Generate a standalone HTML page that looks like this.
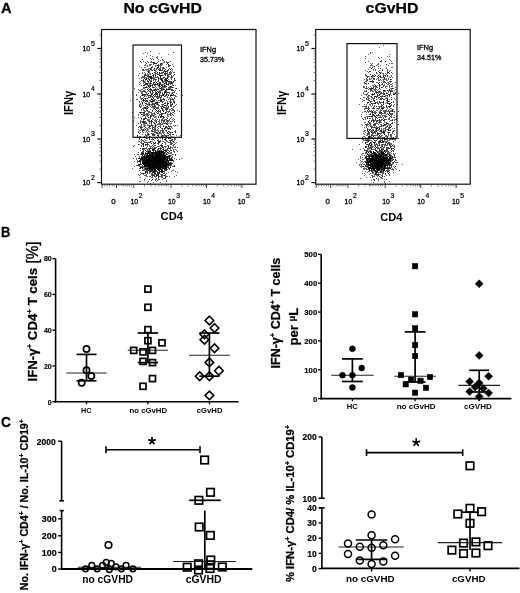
<!DOCTYPE html>
<html><head><meta charset="utf-8"><style>
html,body{margin:0;padding:0;background:#fff;}
svg{display:block;font-family:"Liberation Sans", sans-serif;will-change:transform;}
</style></head><body>
<svg width="520" height="593" viewBox="0 0 520 593">
<rect width="520" height="593" fill="#fff"/>
<text x="1.0" y="12.6" font-size="15.5" font-weight="bold" text-anchor="start" textLength="10.6" lengthAdjust="spacingAndGlyphs" fill="#000" stroke="#000" stroke-width="0.3">A</text>
<text x="1.1" y="236.6" font-size="15.5" font-weight="bold" text-anchor="start" textLength="9.4" lengthAdjust="spacingAndGlyphs" fill="#000" stroke="#000" stroke-width="0.3">B</text>
<text x="1.1" y="426.7" font-size="15.5" font-weight="bold" text-anchor="start" textLength="9.9" lengthAdjust="spacingAndGlyphs" fill="#000" stroke="#000" stroke-width="0.3">C</text>
<rect x="101.5" y="29.5" width="154.5" height="154.7" fill="none" stroke="#111" stroke-width="1.2"/>
<rect x="133.0" y="45.0" width="48.5" height="92.30000000000001" fill="none" stroke="#111" stroke-width="1.2"/>
<line x1="97.2" y1="48.5" x2="101.5" y2="48.5" stroke="#111" stroke-width="1.2"/>
<line x1="97.2" y1="94.0" x2="101.5" y2="94.0" stroke="#111" stroke-width="1.2"/>
<line x1="99.5" y1="80.5" x2="101.5" y2="80.5" stroke="#444" stroke-width="0.7"/>
<line x1="99.5" y1="72.5" x2="101.5" y2="72.5" stroke="#444" stroke-width="0.7"/>
<line x1="99.5" y1="66.9" x2="101.5" y2="66.9" stroke="#444" stroke-width="0.7"/>
<line x1="99.5" y1="62.5" x2="101.5" y2="62.5" stroke="#444" stroke-width="0.7"/>
<line x1="99.5" y1="59.0" x2="101.5" y2="59.0" stroke="#444" stroke-width="0.7"/>
<line x1="99.5" y1="56.0" x2="101.5" y2="56.0" stroke="#444" stroke-width="0.7"/>
<line x1="99.5" y1="53.4" x2="101.5" y2="53.4" stroke="#444" stroke-width="0.7"/>
<line x1="99.5" y1="51.1" x2="101.5" y2="51.1" stroke="#444" stroke-width="0.7"/>
<line x1="97.2" y1="139.0" x2="101.5" y2="139.0" stroke="#111" stroke-width="1.2"/>
<line x1="99.5" y1="125.5" x2="101.5" y2="125.5" stroke="#444" stroke-width="0.7"/>
<line x1="99.5" y1="117.5" x2="101.5" y2="117.5" stroke="#444" stroke-width="0.7"/>
<line x1="99.5" y1="111.9" x2="101.5" y2="111.9" stroke="#444" stroke-width="0.7"/>
<line x1="99.5" y1="107.5" x2="101.5" y2="107.5" stroke="#444" stroke-width="0.7"/>
<line x1="99.5" y1="104.0" x2="101.5" y2="104.0" stroke="#444" stroke-width="0.7"/>
<line x1="99.5" y1="101.0" x2="101.5" y2="101.0" stroke="#444" stroke-width="0.7"/>
<line x1="99.5" y1="98.4" x2="101.5" y2="98.4" stroke="#444" stroke-width="0.7"/>
<line x1="99.5" y1="96.1" x2="101.5" y2="96.1" stroke="#444" stroke-width="0.7"/>
<line x1="97.2" y1="182.6" x2="101.5" y2="182.6" stroke="#111" stroke-width="1.2"/>
<line x1="99.5" y1="169.1" x2="101.5" y2="169.1" stroke="#444" stroke-width="0.7"/>
<line x1="99.5" y1="161.1" x2="101.5" y2="161.1" stroke="#444" stroke-width="0.7"/>
<line x1="99.5" y1="155.5" x2="101.5" y2="155.5" stroke="#444" stroke-width="0.7"/>
<line x1="99.5" y1="151.1" x2="101.5" y2="151.1" stroke="#444" stroke-width="0.7"/>
<line x1="99.5" y1="147.6" x2="101.5" y2="147.6" stroke="#444" stroke-width="0.7"/>
<line x1="99.5" y1="144.6" x2="101.5" y2="144.6" stroke="#444" stroke-width="0.7"/>
<line x1="99.5" y1="142.0" x2="101.5" y2="142.0" stroke="#444" stroke-width="0.7"/>
<line x1="99.5" y1="139.7" x2="101.5" y2="139.7" stroke="#444" stroke-width="0.7"/>
<line x1="99.5" y1="35.0" x2="101.5" y2="35.0" stroke="#444" stroke-width="0.7"/>
<text x="82.4" y="51.15" font-size="7.8" text-anchor="start" textLength="7.8" lengthAdjust="spacingAndGlyphs" fill="#000" stroke="#000" stroke-width="0.3">10</text>
<text x="90.9" y="45.9" font-size="7.0" text-anchor="start" fill="#000" stroke="#000" stroke-width="0.2">5</text>
<text x="82.4" y="96.65" font-size="7.8" text-anchor="start" textLength="7.8" lengthAdjust="spacingAndGlyphs" fill="#000" stroke="#000" stroke-width="0.3">10</text>
<text x="90.9" y="91.4" font-size="7.0" text-anchor="start" fill="#000" stroke="#000" stroke-width="0.2">4</text>
<text x="82.4" y="141.65" font-size="7.8" text-anchor="start" textLength="7.8" lengthAdjust="spacingAndGlyphs" fill="#000" stroke="#000" stroke-width="0.3">10</text>
<text x="90.9" y="136.4" font-size="7.0" text-anchor="start" fill="#000" stroke="#000" stroke-width="0.2">3</text>
<text x="82.4" y="185.25" font-size="7.8" text-anchor="start" textLength="7.8" lengthAdjust="spacingAndGlyphs" fill="#000" stroke="#000" stroke-width="0.3">10</text>
<text x="90.9" y="180.0" font-size="7.0" text-anchor="start" fill="#000" stroke="#000" stroke-width="0.2">2</text>
<line x1="102.0" y1="184.2" x2="102.0" y2="188.0" stroke="#333" stroke-width="0.9"/>
<line x1="116.5" y1="184.2" x2="116.5" y2="188.0" stroke="#333" stroke-width="0.9"/>
<line x1="133.7" y1="184.2" x2="133.7" y2="188.0" stroke="#333" stroke-width="0.9"/>
<line x1="104.3" y1="184.2" x2="104.3" y2="186.39999999999998" stroke="#444" stroke-width="0.7"/>
<line x1="107.3" y1="184.2" x2="107.3" y2="186.39999999999998" stroke="#444" stroke-width="0.7"/>
<line x1="109.6" y1="184.2" x2="109.6" y2="186.39999999999998" stroke="#444" stroke-width="0.7"/>
<line x1="112.3" y1="184.2" x2="112.3" y2="186.39999999999998" stroke="#444" stroke-width="0.7"/>
<line x1="114.2" y1="184.2" x2="114.2" y2="186.39999999999998" stroke="#444" stroke-width="0.7"/>
<line x1="118.8" y1="184.2" x2="118.8" y2="186.39999999999998" stroke="#444" stroke-width="0.7"/>
<line x1="121.9" y1="184.2" x2="121.9" y2="186.39999999999998" stroke="#444" stroke-width="0.7"/>
<line x1="123.8" y1="184.2" x2="123.8" y2="186.39999999999998" stroke="#444" stroke-width="0.7"/>
<line x1="125.8" y1="184.2" x2="125.8" y2="186.39999999999998" stroke="#444" stroke-width="0.7"/>
<line x1="127.7" y1="184.2" x2="127.7" y2="186.39999999999998" stroke="#444" stroke-width="0.7"/>
<line x1="129.6" y1="184.2" x2="129.6" y2="186.39999999999998" stroke="#444" stroke-width="0.7"/>
<line x1="131.5" y1="184.2" x2="131.5" y2="186.39999999999998" stroke="#444" stroke-width="0.7"/>
<line x1="144.5" y1="184.2" x2="144.5" y2="186.39999999999998" stroke="#444" stroke-width="0.7"/>
<line x1="150.9" y1="184.2" x2="150.9" y2="186.39999999999998" stroke="#444" stroke-width="0.7"/>
<line x1="155.4" y1="184.2" x2="155.4" y2="186.39999999999998" stroke="#444" stroke-width="0.7"/>
<line x1="158.9" y1="184.2" x2="158.9" y2="186.39999999999998" stroke="#444" stroke-width="0.7"/>
<line x1="161.7" y1="184.2" x2="161.7" y2="186.39999999999998" stroke="#444" stroke-width="0.7"/>
<line x1="164.1" y1="184.2" x2="164.1" y2="186.39999999999998" stroke="#444" stroke-width="0.7"/>
<line x1="166.2" y1="184.2" x2="166.2" y2="186.39999999999998" stroke="#444" stroke-width="0.7"/>
<line x1="168.1" y1="184.2" x2="168.1" y2="186.39999999999998" stroke="#444" stroke-width="0.7"/>
<line x1="181.8" y1="184.2" x2="181.8" y2="186.39999999999998" stroke="#444" stroke-width="0.7"/>
<line x1="188.2" y1="184.2" x2="188.2" y2="186.39999999999998" stroke="#444" stroke-width="0.7"/>
<line x1="192.7" y1="184.2" x2="192.7" y2="186.39999999999998" stroke="#444" stroke-width="0.7"/>
<line x1="196.2" y1="184.2" x2="196.2" y2="186.39999999999998" stroke="#444" stroke-width="0.7"/>
<line x1="199.0" y1="184.2" x2="199.0" y2="186.39999999999998" stroke="#444" stroke-width="0.7"/>
<line x1="201.4" y1="184.2" x2="201.4" y2="186.39999999999998" stroke="#444" stroke-width="0.7"/>
<line x1="203.5" y1="184.2" x2="203.5" y2="186.39999999999998" stroke="#444" stroke-width="0.7"/>
<line x1="205.4" y1="184.2" x2="205.4" y2="186.39999999999998" stroke="#444" stroke-width="0.7"/>
<line x1="217.3" y1="184.2" x2="217.3" y2="186.39999999999998" stroke="#444" stroke-width="0.7"/>
<line x1="223.7" y1="184.2" x2="223.7" y2="186.39999999999998" stroke="#444" stroke-width="0.7"/>
<line x1="228.2" y1="184.2" x2="228.2" y2="186.39999999999998" stroke="#444" stroke-width="0.7"/>
<line x1="231.7" y1="184.2" x2="231.7" y2="186.39999999999998" stroke="#444" stroke-width="0.7"/>
<line x1="234.5" y1="184.2" x2="234.5" y2="186.39999999999998" stroke="#444" stroke-width="0.7"/>
<line x1="236.9" y1="184.2" x2="236.9" y2="186.39999999999998" stroke="#444" stroke-width="0.7"/>
<line x1="239.0" y1="184.2" x2="239.0" y2="186.39999999999998" stroke="#444" stroke-width="0.7"/>
<line x1="240.9" y1="184.2" x2="240.9" y2="186.39999999999998" stroke="#444" stroke-width="0.7"/>
<line x1="171.0" y1="184.2" x2="171.0" y2="188.0" stroke="#333" stroke-width="0.9"/>
<line x1="206.5" y1="184.2" x2="206.5" y2="188.0" stroke="#333" stroke-width="0.9"/>
<line x1="242.0" y1="184.2" x2="242.0" y2="188.0" stroke="#333" stroke-width="0.9"/>
<text x="111.2" y="203.5" font-size="7.8" text-anchor="start" fill="#000" stroke="#000" stroke-width="0.3">0</text>
<text x="130.4" y="203.5" font-size="7.8" text-anchor="start" textLength="7.6" lengthAdjust="spacingAndGlyphs" fill="#000" stroke="#000" stroke-width="0.3">10</text>
<text x="138.70000000000002" y="197.9" font-size="6.8" text-anchor="start" fill="#000" stroke="#000" stroke-width="0.2">2</text>
<text x="168.0" y="203.5" font-size="7.8" text-anchor="start" textLength="7.6" lengthAdjust="spacingAndGlyphs" fill="#000" stroke="#000" stroke-width="0.3">10</text>
<text x="176.3" y="197.9" font-size="6.8" text-anchor="start" fill="#000" stroke="#000" stroke-width="0.2">3</text>
<text x="203.0" y="203.5" font-size="7.8" text-anchor="start" textLength="7.6" lengthAdjust="spacingAndGlyphs" fill="#000" stroke="#000" stroke-width="0.3">10</text>
<text x="211.3" y="197.9" font-size="6.8" text-anchor="start" fill="#000" stroke="#000" stroke-width="0.2">4</text>
<text x="237.8" y="203.5" font-size="7.8" text-anchor="start" textLength="7.6" lengthAdjust="spacingAndGlyphs" fill="#000" stroke="#000" stroke-width="0.3">10</text>
<text x="246.10000000000002" y="197.9" font-size="6.8" text-anchor="start" fill="#000" stroke="#000" stroke-width="0.2">5</text>
<text x="160.6" y="220.0" font-size="10.8" font-weight="bold" text-anchor="start" textLength="22.3" lengthAdjust="spacingAndGlyphs" fill="#000" >CD4</text>
<text transform="translate(72.6,115.0) rotate(-90)" font-size="12.2" font-weight="bold" textLength="24.2" lengthAdjust="spacingAndGlyphs">IFNγ</text>
<text x="123.4" y="12.8" font-size="14.8" font-weight="bold" text-anchor="start" textLength="78.5" lengthAdjust="spacingAndGlyphs" fill="#000" stroke="#000" stroke-width="0.25">No cGvHD</text>
<text x="200.0" y="51.9" font-size="7.4" text-anchor="start" fill="#000" stroke="#000" stroke-width="0.3">IFNg</text>
<text x="200.0" y="61.5" font-size="7.4" text-anchor="start" textLength="24.3" lengthAdjust="spacingAndGlyphs" fill="#000" stroke="#000" stroke-width="0.3">35.73%</text>
<rect x="315.7" y="29.5" width="154.5" height="154.7" fill="none" stroke="#111" stroke-width="1.2"/>
<rect x="347.0" y="43.6" width="50.0" height="94.80000000000001" fill="none" stroke="#111" stroke-width="1.2"/>
<line x1="311.4" y1="48.5" x2="315.7" y2="48.5" stroke="#111" stroke-width="1.2"/>
<line x1="311.4" y1="94.0" x2="315.7" y2="94.0" stroke="#111" stroke-width="1.2"/>
<line x1="313.7" y1="80.5" x2="315.7" y2="80.5" stroke="#444" stroke-width="0.7"/>
<line x1="313.7" y1="72.5" x2="315.7" y2="72.5" stroke="#444" stroke-width="0.7"/>
<line x1="313.7" y1="66.9" x2="315.7" y2="66.9" stroke="#444" stroke-width="0.7"/>
<line x1="313.7" y1="62.5" x2="315.7" y2="62.5" stroke="#444" stroke-width="0.7"/>
<line x1="313.7" y1="59.0" x2="315.7" y2="59.0" stroke="#444" stroke-width="0.7"/>
<line x1="313.7" y1="56.0" x2="315.7" y2="56.0" stroke="#444" stroke-width="0.7"/>
<line x1="313.7" y1="53.4" x2="315.7" y2="53.4" stroke="#444" stroke-width="0.7"/>
<line x1="313.7" y1="51.1" x2="315.7" y2="51.1" stroke="#444" stroke-width="0.7"/>
<line x1="311.4" y1="139.0" x2="315.7" y2="139.0" stroke="#111" stroke-width="1.2"/>
<line x1="313.7" y1="125.5" x2="315.7" y2="125.5" stroke="#444" stroke-width="0.7"/>
<line x1="313.7" y1="117.5" x2="315.7" y2="117.5" stroke="#444" stroke-width="0.7"/>
<line x1="313.7" y1="111.9" x2="315.7" y2="111.9" stroke="#444" stroke-width="0.7"/>
<line x1="313.7" y1="107.5" x2="315.7" y2="107.5" stroke="#444" stroke-width="0.7"/>
<line x1="313.7" y1="104.0" x2="315.7" y2="104.0" stroke="#444" stroke-width="0.7"/>
<line x1="313.7" y1="101.0" x2="315.7" y2="101.0" stroke="#444" stroke-width="0.7"/>
<line x1="313.7" y1="98.4" x2="315.7" y2="98.4" stroke="#444" stroke-width="0.7"/>
<line x1="313.7" y1="96.1" x2="315.7" y2="96.1" stroke="#444" stroke-width="0.7"/>
<line x1="311.4" y1="182.6" x2="315.7" y2="182.6" stroke="#111" stroke-width="1.2"/>
<line x1="313.7" y1="169.1" x2="315.7" y2="169.1" stroke="#444" stroke-width="0.7"/>
<line x1="313.7" y1="161.1" x2="315.7" y2="161.1" stroke="#444" stroke-width="0.7"/>
<line x1="313.7" y1="155.5" x2="315.7" y2="155.5" stroke="#444" stroke-width="0.7"/>
<line x1="313.7" y1="151.1" x2="315.7" y2="151.1" stroke="#444" stroke-width="0.7"/>
<line x1="313.7" y1="147.6" x2="315.7" y2="147.6" stroke="#444" stroke-width="0.7"/>
<line x1="313.7" y1="144.6" x2="315.7" y2="144.6" stroke="#444" stroke-width="0.7"/>
<line x1="313.7" y1="142.0" x2="315.7" y2="142.0" stroke="#444" stroke-width="0.7"/>
<line x1="313.7" y1="139.7" x2="315.7" y2="139.7" stroke="#444" stroke-width="0.7"/>
<line x1="313.7" y1="35.0" x2="315.7" y2="35.0" stroke="#444" stroke-width="0.7"/>
<text x="296.59999999999997" y="51.15" font-size="7.8" text-anchor="start" textLength="7.8" lengthAdjust="spacingAndGlyphs" fill="#000" stroke="#000" stroke-width="0.3">10</text>
<text x="305.09999999999997" y="45.9" font-size="7.0" text-anchor="start" fill="#000" stroke="#000" stroke-width="0.2">5</text>
<text x="296.59999999999997" y="96.65" font-size="7.8" text-anchor="start" textLength="7.8" lengthAdjust="spacingAndGlyphs" fill="#000" stroke="#000" stroke-width="0.3">10</text>
<text x="305.09999999999997" y="91.4" font-size="7.0" text-anchor="start" fill="#000" stroke="#000" stroke-width="0.2">4</text>
<text x="296.59999999999997" y="141.65" font-size="7.8" text-anchor="start" textLength="7.8" lengthAdjust="spacingAndGlyphs" fill="#000" stroke="#000" stroke-width="0.3">10</text>
<text x="305.09999999999997" y="136.4" font-size="7.0" text-anchor="start" fill="#000" stroke="#000" stroke-width="0.2">3</text>
<text x="296.59999999999997" y="185.25" font-size="7.8" text-anchor="start" textLength="7.8" lengthAdjust="spacingAndGlyphs" fill="#000" stroke="#000" stroke-width="0.3">10</text>
<text x="305.09999999999997" y="180.0" font-size="7.0" text-anchor="start" fill="#000" stroke="#000" stroke-width="0.2">2</text>
<line x1="316.2" y1="184.2" x2="316.2" y2="188.0" stroke="#333" stroke-width="0.9"/>
<line x1="330.7" y1="184.2" x2="330.7" y2="188.0" stroke="#333" stroke-width="0.9"/>
<line x1="347.9" y1="184.2" x2="347.9" y2="188.0" stroke="#333" stroke-width="0.9"/>
<line x1="318.5" y1="184.2" x2="318.5" y2="186.39999999999998" stroke="#444" stroke-width="0.7"/>
<line x1="321.5" y1="184.2" x2="321.5" y2="186.39999999999998" stroke="#444" stroke-width="0.7"/>
<line x1="323.8" y1="184.2" x2="323.8" y2="186.39999999999998" stroke="#444" stroke-width="0.7"/>
<line x1="326.5" y1="184.2" x2="326.5" y2="186.39999999999998" stroke="#444" stroke-width="0.7"/>
<line x1="328.4" y1="184.2" x2="328.4" y2="186.39999999999998" stroke="#444" stroke-width="0.7"/>
<line x1="333.0" y1="184.2" x2="333.0" y2="186.39999999999998" stroke="#444" stroke-width="0.7"/>
<line x1="336.09999999999997" y1="184.2" x2="336.09999999999997" y2="186.39999999999998" stroke="#444" stroke-width="0.7"/>
<line x1="338.0" y1="184.2" x2="338.0" y2="186.39999999999998" stroke="#444" stroke-width="0.7"/>
<line x1="340.0" y1="184.2" x2="340.0" y2="186.39999999999998" stroke="#444" stroke-width="0.7"/>
<line x1="341.9" y1="184.2" x2="341.9" y2="186.39999999999998" stroke="#444" stroke-width="0.7"/>
<line x1="343.8" y1="184.2" x2="343.8" y2="186.39999999999998" stroke="#444" stroke-width="0.7"/>
<line x1="345.7" y1="184.2" x2="345.7" y2="186.39999999999998" stroke="#444" stroke-width="0.7"/>
<line x1="358.7" y1="184.2" x2="358.7" y2="186.39999999999998" stroke="#444" stroke-width="0.7"/>
<line x1="365.1" y1="184.2" x2="365.1" y2="186.39999999999998" stroke="#444" stroke-width="0.7"/>
<line x1="369.6" y1="184.2" x2="369.6" y2="186.39999999999998" stroke="#444" stroke-width="0.7"/>
<line x1="373.1" y1="184.2" x2="373.1" y2="186.39999999999998" stroke="#444" stroke-width="0.7"/>
<line x1="375.9" y1="184.2" x2="375.9" y2="186.39999999999998" stroke="#444" stroke-width="0.7"/>
<line x1="378.3" y1="184.2" x2="378.3" y2="186.39999999999998" stroke="#444" stroke-width="0.7"/>
<line x1="380.4" y1="184.2" x2="380.4" y2="186.39999999999998" stroke="#444" stroke-width="0.7"/>
<line x1="382.3" y1="184.2" x2="382.3" y2="186.39999999999998" stroke="#444" stroke-width="0.7"/>
<line x1="396.0" y1="184.2" x2="396.0" y2="186.39999999999998" stroke="#444" stroke-width="0.7"/>
<line x1="402.4" y1="184.2" x2="402.4" y2="186.39999999999998" stroke="#444" stroke-width="0.7"/>
<line x1="406.9" y1="184.2" x2="406.9" y2="186.39999999999998" stroke="#444" stroke-width="0.7"/>
<line x1="410.4" y1="184.2" x2="410.4" y2="186.39999999999998" stroke="#444" stroke-width="0.7"/>
<line x1="413.2" y1="184.2" x2="413.2" y2="186.39999999999998" stroke="#444" stroke-width="0.7"/>
<line x1="415.6" y1="184.2" x2="415.6" y2="186.39999999999998" stroke="#444" stroke-width="0.7"/>
<line x1="417.7" y1="184.2" x2="417.7" y2="186.39999999999998" stroke="#444" stroke-width="0.7"/>
<line x1="419.6" y1="184.2" x2="419.6" y2="186.39999999999998" stroke="#444" stroke-width="0.7"/>
<line x1="431.5" y1="184.2" x2="431.5" y2="186.39999999999998" stroke="#444" stroke-width="0.7"/>
<line x1="437.9" y1="184.2" x2="437.9" y2="186.39999999999998" stroke="#444" stroke-width="0.7"/>
<line x1="442.4" y1="184.2" x2="442.4" y2="186.39999999999998" stroke="#444" stroke-width="0.7"/>
<line x1="445.9" y1="184.2" x2="445.9" y2="186.39999999999998" stroke="#444" stroke-width="0.7"/>
<line x1="448.7" y1="184.2" x2="448.7" y2="186.39999999999998" stroke="#444" stroke-width="0.7"/>
<line x1="451.1" y1="184.2" x2="451.1" y2="186.39999999999998" stroke="#444" stroke-width="0.7"/>
<line x1="453.2" y1="184.2" x2="453.2" y2="186.39999999999998" stroke="#444" stroke-width="0.7"/>
<line x1="455.1" y1="184.2" x2="455.1" y2="186.39999999999998" stroke="#444" stroke-width="0.7"/>
<line x1="385.2" y1="184.2" x2="385.2" y2="188.0" stroke="#333" stroke-width="0.9"/>
<line x1="420.7" y1="184.2" x2="420.7" y2="188.0" stroke="#333" stroke-width="0.9"/>
<line x1="456.2" y1="184.2" x2="456.2" y2="188.0" stroke="#333" stroke-width="0.9"/>
<text x="325.4" y="203.5" font-size="7.8" text-anchor="start" fill="#000" stroke="#000" stroke-width="0.3">0</text>
<text x="344.59999999999997" y="203.5" font-size="7.8" text-anchor="start" textLength="7.6" lengthAdjust="spacingAndGlyphs" fill="#000" stroke="#000" stroke-width="0.3">10</text>
<text x="352.9" y="197.9" font-size="6.8" text-anchor="start" fill="#000" stroke="#000" stroke-width="0.2">2</text>
<text x="382.2" y="203.5" font-size="7.8" text-anchor="start" textLength="7.6" lengthAdjust="spacingAndGlyphs" fill="#000" stroke="#000" stroke-width="0.3">10</text>
<text x="390.5" y="197.9" font-size="6.8" text-anchor="start" fill="#000" stroke="#000" stroke-width="0.2">3</text>
<text x="417.2" y="203.5" font-size="7.8" text-anchor="start" textLength="7.6" lengthAdjust="spacingAndGlyphs" fill="#000" stroke="#000" stroke-width="0.3">10</text>
<text x="425.5" y="197.9" font-size="6.8" text-anchor="start" fill="#000" stroke="#000" stroke-width="0.2">4</text>
<text x="452.0" y="203.5" font-size="7.8" text-anchor="start" textLength="7.6" lengthAdjust="spacingAndGlyphs" fill="#000" stroke="#000" stroke-width="0.3">10</text>
<text x="460.3" y="197.9" font-size="6.8" text-anchor="start" fill="#000" stroke="#000" stroke-width="0.2">5</text>
<text x="380.2" y="221.1" font-size="10.8" font-weight="bold" text-anchor="start" textLength="22.3" lengthAdjust="spacingAndGlyphs" fill="#000" >CD4</text>
<text transform="translate(285.8,115.0) rotate(-90)" font-size="12.2" font-weight="bold" textLength="24.2" lengthAdjust="spacingAndGlyphs">IFNγ</text>
<text x="365.6" y="12.8" font-size="14.8" font-weight="bold" text-anchor="start" textLength="52.9" lengthAdjust="spacingAndGlyphs" fill="#000" stroke="#000" stroke-width="0.25">cGvHD</text>
<text x="417.0" y="50.2" font-size="7.4" text-anchor="start" fill="#000" stroke="#000" stroke-width="0.3">IFNg</text>
<text x="417.0" y="59.6" font-size="7.4" text-anchor="start" textLength="24.3" lengthAdjust="spacingAndGlyphs" fill="#000" stroke="#000" stroke-width="0.3">34.51%</text>
<defs><filter id="bl" x="-5%" y="-5%" width="110%" height="110%"><feGaussianBlur stdDeviation="0.5"/></filter></defs>
<g filter="url(#bl)"><path d="M150 51h1v1h-1zM145 52h1v1h-1zM173 52h1v1h-1zM143 53h1v1h-1zM147 53h1v1h-1zM159 53h1v1h-1zM168 54h1v1h-1zM150 55h1v1h-1zM146 56h1v1h-1zM152 56h1v1h-1zM157 56h1v1h-1zM156 57h2v1h-2zM161 57h1v1h-1zM150 58h1v1h-1zM152 58h1v1h-1zM157 58h1v1h-1zM142 59h1v1h-1zM151 59h1v1h-1zM153 59h1v1h-1zM158 59h1v1h-1zM162 59h1v1h-1zM160 60h1v1h-1zM162 60h2v1h-2zM143 61h1v1h-1zM147 61h1v1h-1zM151 61h1v1h-1zM158 61h1v1h-1zM164 61h1v1h-1zM166 61h1v1h-1zM170 61h1v1h-1zM141 62h1v1h-1zM145 62h1v1h-1zM148 62h1v1h-1zM150 62h3v1h-3zM154 62h1v1h-1zM157 62h1v1h-1zM163 62h2v1h-2zM166 62h2v1h-2zM146 63h1v1h-1zM153 63h1v1h-1zM160 63h1v1h-1zM162 63h1v1h-1zM145 64h1v1h-1zM149 64h3v1h-3zM153 64h1v1h-1zM158 64h1v1h-1zM161 64h2v1h-2zM166 64h1v1h-1zM172 64h1v1h-1zM144 65h2v1h-2zM147 65h1v1h-1zM149 65h2v1h-2zM155 65h2v1h-2zM158 65h4v1h-4zM168 65h1v1h-1zM170 65h1v1h-1zM139 66h1v1h-1zM152 66h1v1h-1zM155 66h1v1h-1zM160 66h1v1h-1zM169 66h1v1h-1zM173 66h1v1h-1zM141 67h1v1h-1zM144 67h2v1h-2zM152 67h1v1h-1zM160 67h1v1h-1zM162 67h2v1h-2zM166 67h1v1h-1zM148 68h4v1h-4zM156 68h2v1h-2zM159 68h2v1h-2zM162 68h1v1h-1zM164 68h1v1h-1zM169 68h1v1h-1zM171 68h1v1h-1zM142 69h1v1h-1zM145 69h4v1h-4zM151 69h1v1h-1zM153 69h2v1h-2zM158 69h2v1h-2zM162 69h1v1h-1zM165 69h1v1h-1zM168 69h1v1h-1zM142 70h3v1h-3zM146 70h1v1h-1zM148 70h2v1h-2zM151 70h1v1h-1zM155 70h1v1h-1zM161 70h1v1h-1zM168 70h1v1h-1zM171 70h1v1h-1zM147 71h1v1h-1zM149 71h1v1h-1zM155 71h2v1h-2zM163 71h2v1h-2zM167 71h1v1h-1zM170 71h1v1h-1zM172 71h1v1h-1zM142 72h1v1h-1zM144 72h1v1h-1zM149 72h1v1h-1zM155 72h1v1h-1zM161 72h2v1h-2zM165 72h1v1h-1zM167 72h1v1h-1zM170 72h2v1h-2zM173 72h2v1h-2zM139 73h1v1h-1zM142 73h1v1h-1zM145 73h1v1h-1zM147 73h1v1h-1zM149 73h2v1h-2zM156 73h2v1h-2zM160 73h1v1h-1zM162 73h1v1h-1zM167 73h1v1h-1zM169 73h3v1h-3zM144 74h1v1h-1zM147 74h2v1h-2zM153 74h3v1h-3zM158 74h2v1h-2zM164 74h1v1h-1zM167 74h4v1h-4zM138 75h1v1h-1zM144 75h1v1h-1zM146 75h3v1h-3zM152 75h1v1h-1zM163 75h1v1h-1zM165 75h1v1h-1zM168 75h1v1h-1zM171 75h1v1h-1zM142 76h2v1h-2zM148 76h1v1h-1zM155 76h1v1h-1zM157 76h1v1h-1zM167 76h3v1h-3zM172 76h1v1h-1zM141 77h6v1h-6zM148 77h1v1h-1zM152 77h6v1h-6zM168 77h1v1h-1zM170 77h3v1h-3zM139 78h1v1h-1zM141 78h1v1h-1zM147 78h2v1h-2zM152 78h3v1h-3zM159 78h2v1h-2zM162 78h2v1h-2zM171 78h1v1h-1zM143 79h1v1h-1zM148 79h1v1h-1zM151 79h1v1h-1zM153 79h2v1h-2zM156 79h1v1h-1zM162 79h1v1h-1zM164 79h1v1h-1zM168 79h1v1h-1zM171 79h1v1h-1zM174 79h1v1h-1zM141 80h2v1h-2zM145 80h1v1h-1zM147 80h1v1h-1zM149 80h3v1h-3zM153 80h1v1h-1zM155 80h1v1h-1zM164 80h1v1h-1zM175 80h1v1h-1zM140 81h1v1h-1zM150 81h1v1h-1zM155 81h1v1h-1zM157 81h2v1h-2zM163 81h5v1h-5zM170 81h1v1h-1zM139 82h1v1h-1zM143 82h3v1h-3zM148 82h1v1h-1zM162 82h1v1h-1zM165 82h1v1h-1zM168 82h3v1h-3zM172 82h2v1h-2zM140 83h1v1h-1zM143 83h1v1h-1zM148 83h2v1h-2zM151 83h1v1h-1zM155 83h1v1h-1zM158 83h2v1h-2zM165 83h1v1h-1zM168 83h2v1h-2zM172 83h1v1h-1zM139 84h1v1h-1zM144 84h1v1h-1zM147 84h1v1h-1zM149 84h2v1h-2zM152 84h2v1h-2zM158 84h1v1h-1zM160 84h5v1h-5zM170 84h1v1h-1zM172 84h1v1h-1zM147 85h1v1h-1zM149 85h1v1h-1zM151 85h1v1h-1zM154 85h2v1h-2zM165 85h1v1h-1zM168 85h1v1h-1zM172 85h1v1h-1zM175 85h1v1h-1zM146 86h1v1h-1zM149 86h1v1h-1zM152 86h1v1h-1zM155 86h1v1h-1zM158 86h1v1h-1zM160 86h1v1h-1zM163 86h1v1h-1zM165 86h1v1h-1zM169 86h1v1h-1zM143 87h2v1h-2zM147 87h1v1h-1zM152 87h1v1h-1zM154 87h1v1h-1zM156 87h1v1h-1zM159 87h1v1h-1zM162 87h4v1h-4zM168 87h1v1h-1zM170 87h2v1h-2zM173 87h1v1h-1zM134 88h1v1h-1zM143 88h2v1h-2zM148 88h1v1h-1zM150 88h1v1h-1zM155 88h1v1h-1zM157 88h1v1h-1zM159 88h1v1h-1zM162 88h2v1h-2zM166 88h1v1h-1zM168 88h3v1h-3zM175 88h1v1h-1zM138 89h1v1h-1zM141 89h2v1h-2zM145 89h1v1h-1zM153 89h2v1h-2zM156 89h2v1h-2zM161 89h2v1h-2zM170 89h1v1h-1zM172 89h1v1h-1zM139 90h2v1h-2zM143 90h2v1h-2zM150 90h4v1h-4zM155 90h2v1h-2zM159 90h2v1h-2zM162 90h1v1h-1zM166 90h1v1h-1zM171 90h2v1h-2zM175 90h1v1h-1zM179 90h1v1h-1zM140 91h4v1h-4zM145 91h1v1h-1zM147 91h1v1h-1zM149 91h1v1h-1zM155 91h1v1h-1zM158 91h3v1h-3zM164 91h1v1h-1zM166 91h1v1h-1zM174 91h1v1h-1zM138 92h1v1h-1zM141 92h2v1h-2zM145 92h2v1h-2zM152 92h2v1h-2zM155 92h1v1h-1zM159 92h1v1h-1zM162 92h1v1h-1zM166 92h1v1h-1zM169 92h1v1h-1zM172 92h3v1h-3zM141 93h2v1h-2zM146 93h1v1h-1zM150 93h2v1h-2zM156 93h1v1h-1zM159 93h2v1h-2zM166 93h1v1h-1zM169 93h1v1h-1zM171 93h1v1h-1zM176 93h1v1h-1zM136 94h1v1h-1zM145 94h2v1h-2zM152 94h1v1h-1zM155 94h1v1h-1zM162 94h1v1h-1zM164 94h1v1h-1zM167 94h2v1h-2zM170 94h2v1h-2zM136 95h1v1h-1zM141 95h1v1h-1zM143 95h3v1h-3zM147 95h2v1h-2zM151 95h1v1h-1zM155 95h1v1h-1zM157 95h1v1h-1zM160 95h2v1h-2zM165 95h1v1h-1zM173 95h3v1h-3zM182 95h1v1h-1zM140 96h1v1h-1zM146 96h1v1h-1zM148 96h1v1h-1zM151 96h1v1h-1zM155 96h2v1h-2zM158 96h1v1h-1zM165 96h1v1h-1zM167 96h1v1h-1zM170 96h1v1h-1zM175 96h2v1h-2zM140 97h1v1h-1zM143 97h1v1h-1zM149 97h2v1h-2zM152 97h2v1h-2zM156 97h4v1h-4zM161 97h1v1h-1zM169 97h1v1h-1zM171 97h1v1h-1zM174 97h1v1h-1zM140 98h2v1h-2zM144 98h1v1h-1zM146 98h1v1h-1zM151 98h1v1h-1zM158 98h1v1h-1zM160 98h1v1h-1zM169 98h2v1h-2zM172 98h1v1h-1zM136 99h2v1h-2zM141 99h1v1h-1zM145 99h1v1h-1zM154 99h2v1h-2zM161 99h2v1h-2zM168 99h1v1h-1zM171 99h1v1h-1zM130 100h1v1h-1zM142 100h1v1h-1zM144 100h2v1h-2zM147 100h1v1h-1zM149 100h2v1h-2zM156 100h1v1h-1zM158 100h2v1h-2zM164 100h1v1h-1zM166 100h1v1h-1zM170 100h1v1h-1zM173 100h1v1h-1zM139 101h1v1h-1zM141 101h1v1h-1zM143 101h1v1h-1zM146 101h1v1h-1zM153 101h2v1h-2zM157 101h1v1h-1zM160 101h1v1h-1zM162 101h2v1h-2zM167 101h1v1h-1zM169 101h3v1h-3zM173 101h1v1h-1zM139 102h1v1h-1zM144 102h1v1h-1zM148 102h2v1h-2zM151 102h2v1h-2zM158 102h2v1h-2zM165 102h1v1h-1zM167 102h1v1h-1zM171 102h1v1h-1zM173 102h1v1h-1zM140 103h1v1h-1zM148 103h2v1h-2zM152 103h1v1h-1zM154 103h1v1h-1zM165 103h1v1h-1zM170 103h1v1h-1zM172 103h1v1h-1zM174 103h1v1h-1zM139 104h2v1h-2zM142 104h1v1h-1zM146 104h1v1h-1zM148 104h1v1h-1zM150 104h2v1h-2zM153 104h1v1h-1zM156 104h1v1h-1zM158 104h1v1h-1zM161 104h2v1h-2zM170 104h1v1h-1zM176 104h1v1h-1zM141 105h1v1h-1zM143 105h1v1h-1zM148 105h1v1h-1zM151 105h2v1h-2zM154 105h2v1h-2zM158 105h1v1h-1zM162 105h1v1h-1zM166 105h2v1h-2zM171 105h1v1h-1zM175 105h1v1h-1zM139 106h3v1h-3zM146 106h1v1h-1zM150 106h1v1h-1zM152 106h1v1h-1zM155 106h1v1h-1zM158 106h1v1h-1zM160 106h2v1h-2zM163 106h1v1h-1zM166 106h1v1h-1zM170 106h2v1h-2zM173 106h2v1h-2zM140 107h1v1h-1zM143 107h1v1h-1zM146 107h3v1h-3zM151 107h8v1h-8zM161 107h1v1h-1zM165 107h4v1h-4zM173 107h1v1h-1zM142 108h3v1h-3zM146 108h1v1h-1zM153 108h1v1h-1zM156 108h1v1h-1zM158 108h1v1h-1zM165 108h1v1h-1zM167 108h2v1h-2zM171 108h2v1h-2zM141 109h1v1h-1zM143 109h1v1h-1zM146 109h1v1h-1zM150 109h1v1h-1zM153 109h1v1h-1zM159 109h1v1h-1zM162 109h2v1h-2zM165 109h1v1h-1zM169 109h2v1h-2zM172 109h2v1h-2zM141 110h1v1h-1zM143 110h2v1h-2zM147 110h1v1h-1zM163 110h1v1h-1zM166 110h1v1h-1zM169 110h1v1h-1zM171 110h4v1h-4zM177 110h1v1h-1zM144 111h2v1h-2zM147 111h3v1h-3zM152 111h1v1h-1zM155 111h1v1h-1zM158 111h3v1h-3zM166 111h3v1h-3zM179 111h1v1h-1zM132 112h1v1h-1zM139 112h1v1h-1zM142 112h1v1h-1zM148 112h4v1h-4zM154 112h1v1h-1zM156 112h1v1h-1zM158 112h1v1h-1zM166 112h1v1h-1zM168 112h1v1h-1zM170 112h1v1h-1zM172 112h2v1h-2zM140 113h1v1h-1zM143 113h2v1h-2zM146 113h3v1h-3zM151 113h3v1h-3zM158 113h1v1h-1zM163 113h3v1h-3zM167 113h1v1h-1zM171 113h1v1h-1zM174 113h1v1h-1zM138 114h1v1h-1zM142 114h5v1h-5zM149 114h1v1h-1zM151 114h2v1h-2zM154 114h2v1h-2zM159 114h1v1h-1zM161 114h2v1h-2zM167 114h4v1h-4zM138 115h1v1h-1zM146 115h2v1h-2zM151 115h2v1h-2zM154 115h1v1h-1zM159 115h1v1h-1zM167 115h1v1h-1zM170 115h2v1h-2zM173 115h1v1h-1zM142 116h1v1h-1zM145 116h1v1h-1zM147 116h1v1h-1zM151 116h1v1h-1zM153 116h1v1h-1zM155 116h2v1h-2zM158 116h1v1h-1zM163 116h1v1h-1zM167 116h2v1h-2zM134 117h1v1h-1zM138 117h1v1h-1zM140 117h1v1h-1zM145 117h1v1h-1zM149 117h2v1h-2zM154 117h2v1h-2zM161 117h1v1h-1zM164 117h1v1h-1zM166 117h1v1h-1zM171 117h1v1h-1zM143 118h2v1h-2zM150 118h1v1h-1zM152 118h1v1h-1zM156 118h1v1h-1zM162 118h2v1h-2zM170 118h1v1h-1zM173 118h1v1h-1zM141 119h1v1h-1zM147 119h3v1h-3zM152 119h2v1h-2zM155 119h1v1h-1zM157 119h1v1h-1zM159 119h1v1h-1zM161 119h2v1h-2zM164 119h3v1h-3zM169 119h1v1h-1zM172 119h1v1h-1zM174 119h1v1h-1zM133 120h1v1h-1zM140 120h1v1h-1zM143 120h1v1h-1zM147 120h3v1h-3zM154 120h3v1h-3zM159 120h1v1h-1zM162 120h2v1h-2zM166 120h1v1h-1zM168 120h2v1h-2zM173 120h1v1h-1zM140 121h3v1h-3zM144 121h1v1h-1zM148 121h1v1h-1zM150 121h1v1h-1zM155 121h2v1h-2zM158 121h2v1h-2zM161 121h1v1h-1zM164 121h1v1h-1zM166 121h3v1h-3zM170 121h3v1h-3zM174 121h1v1h-1zM145 122h2v1h-2zM149 122h1v1h-1zM153 122h2v1h-2zM159 122h1v1h-1zM161 122h1v1h-1zM163 122h1v1h-1zM165 122h1v1h-1zM167 122h1v1h-1zM169 122h1v1h-1zM174 122h1v1h-1zM138 123h1v1h-1zM140 123h1v1h-1zM143 123h3v1h-3zM155 123h1v1h-1zM158 123h3v1h-3zM162 123h2v1h-2zM165 123h1v1h-1zM167 123h2v1h-2zM170 123h2v1h-2zM141 124h1v1h-1zM143 124h2v1h-2zM147 124h1v1h-1zM151 124h1v1h-1zM158 124h5v1h-5zM166 124h2v1h-2zM170 124h1v1h-1zM136 125h1v1h-1zM141 125h1v1h-1zM144 125h2v1h-2zM147 125h4v1h-4zM153 125h1v1h-1zM156 125h1v1h-1zM160 125h1v1h-1zM163 125h1v1h-1zM168 125h1v1h-1zM173 125h1v1h-1zM177 125h1v1h-1zM139 126h3v1h-3zM143 126h1v1h-1zM150 126h1v1h-1zM152 126h1v1h-1zM154 126h1v1h-1zM158 126h3v1h-3zM165 126h2v1h-2zM169 126h1v1h-1zM171 126h1v1h-1zM174 126h1v1h-1zM138 127h1v1h-1zM142 127h1v1h-1zM148 127h2v1h-2zM152 127h1v1h-1zM154 127h2v1h-2zM157 127h1v1h-1zM167 127h1v1h-1zM169 127h1v1h-1zM171 127h1v1h-1zM140 128h2v1h-2zM144 128h1v1h-1zM146 128h2v1h-2zM149 128h2v1h-2zM154 128h2v1h-2zM158 128h1v1h-1zM161 128h1v1h-1zM165 128h1v1h-1zM170 128h1v1h-1zM172 128h1v1h-1zM138 129h1v1h-1zM141 129h2v1h-2zM147 129h2v1h-2zM152 129h3v1h-3zM157 129h1v1h-1zM162 129h1v1h-1zM164 129h1v1h-1zM168 129h1v1h-1zM139 130h2v1h-2zM143 130h1v1h-1zM146 130h2v1h-2zM151 130h2v1h-2zM154 130h5v1h-5zM160 130h2v1h-2zM163 130h1v1h-1zM165 130h1v1h-1zM175 130h1v1h-1zM138 131h1v1h-1zM146 131h1v1h-1zM148 131h2v1h-2zM151 131h1v1h-1zM153 131h3v1h-3zM160 131h1v1h-1zM162 131h2v1h-2zM166 131h1v1h-1zM168 131h2v1h-2zM174 131h2v1h-2zM140 132h1v1h-1zM143 132h1v1h-1zM145 132h1v1h-1zM147 132h1v1h-1zM155 132h1v1h-1zM157 132h1v1h-1zM160 132h1v1h-1zM163 132h2v1h-2zM169 132h3v1h-3zM139 133h1v1h-1zM147 133h2v1h-2zM152 133h2v1h-2zM156 133h1v1h-1zM158 133h4v1h-4zM163 133h1v1h-1zM167 133h1v1h-1zM170 133h1v1h-1zM142 134h1v1h-1zM147 134h1v1h-1zM149 134h1v1h-1zM154 134h2v1h-2zM158 134h1v1h-1zM161 134h1v1h-1zM169 134h2v1h-2zM172 134h1v1h-1zM145 135h4v1h-4zM152 135h2v1h-2zM161 135h1v1h-1zM163 135h5v1h-5zM170 135h1v1h-1zM176 135h1v1h-1zM180 135h1v1h-1zM137 136h1v1h-1zM139 136h2v1h-2zM146 136h1v1h-1zM150 136h1v1h-1zM158 136h1v1h-1zM162 136h2v1h-2zM165 136h1v1h-1zM171 136h1v1h-1zM136 137h1v1h-1zM142 137h3v1h-3zM148 137h1v1h-1zM154 137h4v1h-4zM161 137h1v1h-1zM165 137h1v1h-1zM167 137h4v1h-4zM173 137h1v1h-1zM175 137h1v1h-1zM179 137h1v1h-1zM147 138h1v1h-1zM152 138h1v1h-1zM154 138h2v1h-2zM157 138h1v1h-1zM160 138h1v1h-1zM165 138h2v1h-2zM174 138h2v1h-2zM139 139h1v1h-1zM144 139h1v1h-1zM149 139h1v1h-1zM151 139h2v1h-2zM158 139h1v1h-1zM162 139h1v1h-1zM171 139h1v1h-1zM174 139h2v1h-2zM141 140h3v1h-3zM145 140h2v1h-2zM154 140h1v1h-1zM158 140h1v1h-1zM160 140h1v1h-1zM165 140h2v1h-2zM169 140h2v1h-2zM172 140h1v1h-1zM174 140h1v1h-1zM138 141h1v1h-1zM141 141h1v1h-1zM143 141h2v1h-2zM151 141h2v1h-2zM162 141h2v1h-2zM166 141h2v1h-2zM172 141h1v1h-1zM140 142h2v1h-2zM144 142h1v1h-1zM147 142h2v1h-2zM150 142h1v1h-1zM153 142h1v1h-1zM164 142h2v1h-2zM168 142h4v1h-4zM173 142h2v1h-2zM176 142h1v1h-1zM141 143h2v1h-2zM147 143h1v1h-1zM153 143h1v1h-1zM155 143h1v1h-1zM157 143h1v1h-1zM165 143h1v1h-1zM170 143h1v1h-1zM172 143h1v1h-1zM175 143h1v1h-1zM139 144h1v1h-1zM142 144h1v1h-1zM148 144h1v1h-1zM153 144h1v1h-1zM158 144h1v1h-1zM161 144h1v1h-1zM165 144h1v1h-1zM170 144h1v1h-1zM173 144h2v1h-2zM134 145h1v1h-1zM141 145h1v1h-1zM143 145h1v1h-1zM145 145h1v1h-1zM147 145h1v1h-1zM149 145h1v1h-1zM152 145h1v1h-1zM155 145h1v1h-1zM162 145h1v1h-1zM167 145h2v1h-2zM173 145h1v1h-1zM147 146h1v1h-1zM149 146h3v1h-3zM157 146h3v1h-3zM161 146h1v1h-1zM164 146h3v1h-3zM170 146h1v1h-1zM173 146h1v1h-1zM175 146h1v1h-1zM146 147h1v1h-1zM150 147h1v1h-1zM152 147h1v1h-1zM155 147h2v1h-2zM160 147h1v1h-1zM165 147h1v1h-1zM168 147h1v1h-1zM170 147h3v1h-3zM174 147h2v1h-2zM177 147h1v1h-1zM142 148h1v1h-1zM144 148h1v1h-1zM146 148h1v1h-1zM149 148h1v1h-1zM151 148h3v1h-3zM155 148h1v1h-1zM159 148h1v1h-1zM163 148h1v1h-1zM168 148h1v1h-1zM170 148h1v1h-1zM172 148h1v1h-1zM143 149h2v1h-2zM157 149h2v1h-2zM160 149h1v1h-1zM162 149h1v1h-1zM165 149h3v1h-3zM170 149h1v1h-1zM173 149h1v1h-1zM175 149h1v1h-1zM140 150h1v1h-1zM143 150h1v1h-1zM147 150h4v1h-4zM154 150h1v1h-1zM157 150h2v1h-2zM160 150h1v1h-1zM163 150h1v1h-1zM166 150h3v1h-3zM170 150h1v1h-1zM173 150h1v1h-1zM176 150h1v1h-1zM142 151h1v1h-1zM147 151h1v1h-1zM153 151h1v1h-1zM156 151h1v1h-1zM173 151h2v1h-2zM177 151h1v1h-1zM138 152h1v1h-1zM141 152h1v1h-1zM143 152h1v1h-1zM145 152h1v1h-1zM147 152h1v1h-1zM165 152h1v1h-1zM168 152h1v1h-1zM170 152h2v1h-2zM174 152h1v1h-1zM150 153h1v1h-1zM154 153h1v1h-1zM162 153h1v1h-1zM168 153h4v1h-4zM134 154h1v1h-1zM137 154h2v1h-2zM140 154h1v1h-1zM143 154h4v1h-4zM164 154h2v1h-2zM167 154h1v1h-1zM172 154h2v1h-2zM145 155h1v1h-1zM154 155h1v1h-1zM168 155h1v1h-1zM170 155h2v1h-2zM175 155h1v1h-1zM135 156h1v1h-1zM139 156h1v1h-1zM141 156h2v1h-2zM170 156h1v1h-1zM172 156h1v1h-1zM139 157h1v1h-1zM168 157h1v1h-1zM172 157h1v1h-1zM133 158h1v1h-1zM136 158h1v1h-1zM166 158h1v1h-1zM170 158h1v1h-1zM181 158h1v1h-1zM136 159h1v1h-1zM176 159h1v1h-1zM179 159h1v1h-1zM137 160h1v1h-1zM141 160h1v1h-1zM165 160h1v1h-1zM173 160h1v1h-1zM134 161h1v1h-1zM137 161h1v1h-1zM173 161h1v1h-1zM137 162h1v1h-1zM167 162h1v1h-1zM169 162h1v1h-1zM171 162h1v1h-1zM141 164h1v1h-1zM171 164h1v1h-1zM136 165h1v1h-1zM139 165h1v1h-1zM142 165h1v1h-1zM169 165h3v1h-3zM134 166h1v1h-1zM139 166h5v1h-5zM167 166h2v1h-2zM170 166h1v1h-1zM172 166h2v1h-2zM143 167h5v1h-5zM167 167h1v1h-1zM132 168h1v1h-1zM139 168h1v1h-1zM144 168h1v1h-1zM161 168h1v1h-1zM168 168h1v1h-1zM143 169h2v1h-2zM148 169h1v1h-1zM162 169h1v1h-1zM167 169h1v1h-1zM169 169h1v1h-1zM139 170h1v1h-1zM142 170h3v1h-3zM146 170h2v1h-2zM149 170h1v1h-1zM151 170h1v1h-1zM153 170h1v1h-1zM156 170h1v1h-1zM164 170h3v1h-3zM172 170h2v1h-2zM152 171h1v1h-1zM156 171h2v1h-2zM164 171h1v1h-1zM171 171h1v1h-1zM175 171h1v1h-1zM140 172h1v1h-1zM146 172h2v1h-2zM149 172h2v1h-2zM155 172h1v1h-1zM158 172h1v1h-1zM164 172h1v1h-1zM168 172h1v1h-1zM177 172h1v1h-1zM141 173h1v1h-1zM144 173h2v1h-2zM149 173h1v1h-1zM151 173h2v1h-2zM164 173h1v1h-1zM166 173h1v1h-1zM138 174h1v1h-1zM140 174h1v1h-1zM143 174h1v1h-1zM146 174h1v1h-1zM151 174h1v1h-1zM153 174h3v1h-3zM157 174h1v1h-1zM160 174h3v1h-3zM165 174h1v1h-1zM139 175h1v1h-1zM144 175h3v1h-3zM151 175h1v1h-1zM153 175h1v1h-1zM162 175h2v1h-2zM165 175h1v1h-1zM176 175h1v1h-1zM146 176h2v1h-2zM149 176h2v1h-2zM152 176h1v1h-1zM154 176h3v1h-3zM159 176h4v1h-4zM165 176h1v1h-1zM167 176h1v1h-1zM169 176h1v1h-1zM174 176h1v1h-1zM140 177h1v1h-1zM151 177h2v1h-2zM155 177h1v1h-1zM161 177h2v1h-2zM145 178h1v1h-1zM156 178h1v1h-1zM158 178h1v1h-1zM163 178h3v1h-3zM144 179h1v1h-1zM149 179h1v1h-1zM155 179h2v1h-2zM158 179h2v1h-2zM162 179h1v1h-1zM144 180h1v1h-1zM151 180h1v1h-1zM155 180h1v1h-1zM157 180h1v1h-1zM166 180h1v1h-1zM139 181h2v1h-2zM148 181h1v1h-1zM156 181h1v1h-1zM166 181h1v1h-1zM147 182h1v1h-1zM153 182h1v1h-1zM160 182h1v1h-1zM150 183h1v1h-1z" fill="#000" fill-opacity="0.62"/><path d="M140 61h1v1h-1zM153 62h1v1h-1zM168 62h1v1h-1zM154 63h3v1h-3zM161 63h1v1h-1zM167 63h1v1h-1zM160 64h1v1h-1zM169 65h1v1h-1zM147 66h1v1h-1zM168 66h1v1h-1zM158 67h1v1h-1zM143 69h1v1h-1zM156 69h1v1h-1zM160 69h1v1h-1zM170 69h1v1h-1zM172 69h1v1h-1zM152 70h1v1h-1zM154 70h1v1h-1zM160 70h1v1h-1zM162 70h1v1h-1zM167 70h1v1h-1zM148 71h1v1h-1zM148 72h1v1h-1zM154 72h1v1h-1zM157 72h1v1h-1zM163 72h1v1h-1zM169 72h1v1h-1zM152 73h1v1h-1zM155 73h1v1h-1zM159 73h1v1h-1zM161 73h1v1h-1zM164 73h3v1h-3zM145 74h1v1h-1zM150 74h1v1h-1zM157 74h1v1h-1zM165 74h1v1h-1zM174 74h1v1h-1zM161 75h1v1h-1zM173 75h1v1h-1zM144 76h1v1h-1zM147 76h1v1h-1zM149 76h1v1h-1zM151 76h1v1h-1zM153 76h1v1h-1zM171 76h1v1h-1zM149 77h2v1h-2zM158 77h1v1h-1zM163 77h2v1h-2zM167 77h1v1h-1zM144 78h1v1h-1zM146 78h1v1h-1zM150 78h2v1h-2zM161 78h1v1h-1zM165 78h2v1h-2zM174 78h1v1h-1zM146 79h1v1h-1zM149 79h1v1h-1zM158 79h1v1h-1zM160 79h2v1h-2zM165 79h2v1h-2zM143 80h1v1h-1zM158 80h1v1h-1zM161 80h1v1h-1zM165 80h1v1h-1zM174 80h1v1h-1zM143 81h2v1h-2zM162 81h1v1h-1zM169 81h1v1h-1zM171 81h1v1h-1zM173 81h1v1h-1zM153 82h1v1h-1zM160 82h1v1h-1zM163 82h1v1h-1zM166 82h1v1h-1zM171 82h1v1h-1zM145 83h1v1h-1zM147 83h1v1h-1zM153 83h1v1h-1zM160 83h1v1h-1zM164 83h1v1h-1zM166 83h1v1h-1zM170 83h2v1h-2zM146 84h1v1h-1zM155 84h3v1h-3zM166 84h3v1h-3zM141 85h1v1h-1zM143 85h2v1h-2zM148 85h1v1h-1zM150 85h1v1h-1zM152 85h1v1h-1zM164 85h1v1h-1zM173 85h1v1h-1zM148 86h1v1h-1zM159 86h1v1h-1zM166 86h1v1h-1zM170 86h2v1h-2zM145 87h2v1h-2zM149 87h1v1h-1zM161 87h1v1h-1zM169 87h1v1h-1zM161 88h1v1h-1zM176 88h1v1h-1zM149 89h3v1h-3zM158 89h1v1h-1zM167 89h1v1h-1zM169 89h1v1h-1zM171 89h1v1h-1zM148 90h1v1h-1zM165 90h1v1h-1zM173 90h1v1h-1zM144 91h1v1h-1zM150 91h1v1h-1zM152 91h1v1h-1zM157 91h1v1h-1zM150 92h1v1h-1zM158 92h1v1h-1zM160 92h1v1h-1zM164 92h2v1h-2zM167 92h2v1h-2zM148 93h1v1h-1zM152 93h1v1h-1zM155 93h1v1h-1zM157 93h1v1h-1zM162 93h1v1h-1zM164 93h1v1h-1zM172 93h1v1h-1zM142 94h3v1h-3zM156 94h2v1h-2zM159 94h1v1h-1zM173 94h1v1h-1zM142 95h1v1h-1zM149 95h2v1h-2zM153 95h1v1h-1zM159 95h1v1h-1zM162 95h1v1h-1zM166 95h1v1h-1zM168 95h1v1h-1zM170 95h1v1h-1zM172 95h1v1h-1zM144 96h1v1h-1zM150 96h1v1h-1zM152 96h1v1h-1zM154 96h1v1h-1zM157 96h1v1h-1zM159 96h1v1h-1zM161 96h1v1h-1zM164 96h1v1h-1zM148 97h1v1h-1zM167 97h1v1h-1zM142 98h1v1h-1zM145 98h1v1h-1zM147 98h1v1h-1zM153 98h1v1h-1zM163 98h1v1h-1zM174 98h1v1h-1zM152 99h1v1h-1zM160 99h1v1h-1zM163 99h2v1h-2zM170 99h1v1h-1zM172 99h2v1h-2zM152 100h3v1h-3zM160 100h2v1h-2zM145 101h1v1h-1zM147 101h1v1h-1zM150 101h2v1h-2zM161 101h1v1h-1zM174 101h1v1h-1zM142 102h1v1h-1zM155 102h2v1h-2zM162 102h1v1h-1zM145 103h2v1h-2zM153 103h1v1h-1zM155 103h3v1h-3zM167 103h2v1h-2zM147 104h1v1h-1zM152 104h1v1h-1zM163 104h1v1h-1zM167 104h1v1h-1zM171 104h2v1h-2zM139 105h1v1h-1zM145 105h1v1h-1zM149 105h1v1h-1zM159 105h1v1h-1zM164 105h1v1h-1zM170 105h1v1h-1zM147 106h1v1h-1zM153 106h2v1h-2zM162 106h1v1h-1zM168 106h1v1h-1zM144 107h2v1h-2zM163 107h2v1h-2zM145 108h1v1h-1zM147 108h1v1h-1zM154 108h1v1h-1zM157 108h1v1h-1zM162 108h1v1h-1zM166 108h1v1h-1zM155 109h1v1h-1zM166 109h2v1h-2zM146 110h1v1h-1zM152 110h1v1h-1zM156 110h1v1h-1zM158 110h1v1h-1zM160 110h1v1h-1zM162 110h1v1h-1zM157 111h1v1h-1zM169 111h1v1h-1zM174 111h1v1h-1zM141 112h1v1h-1zM143 112h2v1h-2zM160 112h1v1h-1zM165 112h1v1h-1zM154 113h1v1h-1zM157 113h1v1h-1zM161 113h2v1h-2zM170 113h1v1h-1zM147 114h1v1h-1zM160 114h1v1h-1zM172 114h1v1h-1zM143 115h1v1h-1zM148 115h1v1h-1zM150 115h1v1h-1zM153 115h1v1h-1zM150 116h1v1h-1zM161 116h1v1h-1zM148 117h1v1h-1zM158 117h1v1h-1zM160 117h1v1h-1zM163 117h1v1h-1zM141 118h1v1h-1zM145 118h2v1h-2zM167 118h1v1h-1zM143 119h2v1h-2zM161 120h1v1h-1zM167 120h1v1h-1zM143 121h1v1h-1zM145 121h1v1h-1zM149 121h1v1h-1zM151 121h2v1h-2zM163 121h1v1h-1zM140 122h1v1h-1zM142 122h3v1h-3zM151 122h1v1h-1zM146 123h1v1h-1zM149 123h1v1h-1zM151 123h1v1h-1zM154 123h1v1h-1zM164 123h1v1h-1zM166 123h1v1h-1zM155 124h1v1h-1zM157 124h1v1h-1zM151 125h2v1h-2zM155 125h1v1h-1zM175 125h1v1h-1zM144 126h1v1h-1zM149 126h1v1h-1zM155 126h1v1h-1zM163 126h1v1h-1zM168 126h1v1h-1zM170 126h1v1h-1zM140 127h2v1h-2zM153 127h1v1h-1zM160 127h1v1h-1zM165 127h2v1h-2zM152 128h1v1h-1zM162 128h1v1h-1zM167 128h3v1h-3zM155 129h1v1h-1zM170 129h1v1h-1zM142 130h1v1h-1zM144 130h1v1h-1zM162 130h1v1h-1zM166 130h1v1h-1zM142 131h1v1h-1zM152 131h1v1h-1zM158 131h1v1h-1zM138 132h1v1h-1zM154 132h1v1h-1zM156 132h1v1h-1zM159 132h1v1h-1zM162 132h1v1h-1zM167 132h1v1h-1zM172 132h1v1h-1zM175 132h1v1h-1zM151 133h1v1h-1zM157 133h1v1h-1zM168 133h1v1h-1zM145 134h1v1h-1zM148 134h1v1h-1zM152 134h2v1h-2zM164 134h1v1h-1zM173 134h1v1h-1zM137 135h1v1h-1zM154 135h1v1h-1zM158 135h1v1h-1zM162 135h1v1h-1zM168 135h1v1h-1zM144 136h1v1h-1zM149 136h1v1h-1zM161 136h1v1h-1zM166 136h1v1h-1zM138 137h1v1h-1zM151 137h1v1h-1zM159 137h1v1h-1zM164 137h1v1h-1zM172 137h1v1h-1zM139 138h1v1h-1zM149 138h1v1h-1zM162 138h1v1h-1zM168 138h3v1h-3zM141 139h1v1h-1zM165 139h1v1h-1zM172 139h1v1h-1zM157 140h1v1h-1zM171 140h1v1h-1zM139 141h1v1h-1zM150 141h1v1h-1zM158 141h1v1h-1zM160 141h1v1h-1zM170 141h1v1h-1zM173 141h1v1h-1zM145 142h2v1h-2zM149 142h1v1h-1zM155 142h1v1h-1zM158 142h2v1h-2zM158 143h1v1h-1zM162 143h1v1h-1zM171 143h1v1h-1zM138 144h1v1h-1zM143 144h1v1h-1zM146 144h2v1h-2zM171 144h1v1h-1zM154 145h1v1h-1zM160 145h1v1h-1zM133 146h1v1h-1zM141 146h1v1h-1zM153 146h1v1h-1zM162 146h1v1h-1zM168 146h1v1h-1zM154 147h1v1h-1zM163 147h1v1h-1zM140 148h1v1h-1zM143 148h1v1h-1zM148 148h1v1h-1zM154 148h1v1h-1zM160 148h2v1h-2zM167 148h1v1h-1zM169 148h1v1h-1zM142 149h1v1h-1zM147 149h1v1h-1zM152 149h1v1h-1zM154 149h1v1h-1zM153 150h1v1h-1zM155 150h1v1h-1zM159 150h1v1h-1zM161 150h1v1h-1zM164 150h2v1h-2zM171 150h1v1h-1zM143 151h1v1h-1zM146 151h1v1h-1zM150 151h1v1h-1zM161 151h1v1h-1zM165 151h2v1h-2zM169 151h1v1h-1zM142 152h1v1h-1zM148 152h3v1h-3zM156 152h1v1h-1zM160 152h1v1h-1zM163 152h1v1h-1zM141 153h2v1h-2zM164 153h1v1h-1zM141 154h2v1h-2zM150 154h1v1h-1zM153 154h1v1h-1zM166 154h1v1h-1zM175 154h1v1h-1zM142 155h1v1h-1zM144 155h1v1h-1zM146 155h1v1h-1zM161 155h1v1h-1zM169 155h1v1h-1zM145 156h1v1h-1zM166 156h1v1h-1zM168 156h1v1h-1zM143 157h1v1h-1zM145 157h1v1h-1zM169 157h1v1h-1zM171 157h1v1h-1zM140 158h4v1h-4zM168 158h2v1h-2zM174 158h1v1h-1zM140 159h2v1h-2zM143 159h1v1h-1zM170 159h3v1h-3zM140 160h1v1h-1zM142 160h1v1h-1zM168 160h2v1h-2zM138 161h1v1h-1zM140 161h1v1h-1zM143 161h1v1h-1zM167 161h2v1h-2zM140 162h1v1h-1zM170 162h1v1h-1zM140 163h1v1h-1zM170 163h3v1h-3zM138 164h2v1h-2zM145 164h1v1h-1zM166 164h1v1h-1zM169 164h1v1h-1zM137 165h2v1h-2zM147 165h1v1h-1zM174 165h1v1h-1zM148 166h1v1h-1zM158 166h1v1h-1zM174 166h1v1h-1zM140 167h1v1h-1zM161 167h1v1h-1zM163 167h2v1h-2zM168 167h1v1h-1zM140 168h1v1h-1zM146 168h1v1h-1zM155 168h1v1h-1zM162 168h1v1h-1zM169 168h1v1h-1zM146 169h2v1h-2zM153 169h1v1h-1zM159 169h1v1h-1zM164 169h2v1h-2zM145 171h3v1h-3zM149 171h1v1h-1zM155 171h1v1h-1zM161 171h1v1h-1zM163 171h1v1h-1zM152 172h1v1h-1zM154 172h1v1h-1zM157 172h1v1h-1zM161 172h2v1h-2zM142 173h1v1h-1zM147 173h1v1h-1zM154 173h1v1h-1zM158 173h2v1h-2zM163 173h1v1h-1zM152 174h1v1h-1zM156 174h1v1h-1zM152 175h1v1h-1zM154 175h1v1h-1zM156 175h3v1h-3zM161 175h1v1h-1zM158 176h1v1h-1zM166 176h1v1h-1zM158 177h1v1h-1zM165 177h1v1h-1z" fill="#000" fill-opacity="0.86"/><path d="M157 65h1v1h-1zM158 66h1v1h-1zM157 67h1v1h-1zM154 68h1v1h-1zM163 68h1v1h-1zM150 69h1v1h-1zM159 70h1v1h-1zM164 70h1v1h-1zM165 71h2v1h-2zM159 72h1v1h-1zM145 75h1v1h-1zM159 75h2v1h-2zM162 75h1v1h-1zM167 75h1v1h-1zM150 76h1v1h-1zM160 76h1v1h-1zM151 77h1v1h-1zM160 77h1v1h-1zM158 78h1v1h-1zM167 78h1v1h-1zM145 79h1v1h-1zM155 79h1v1h-1zM166 80h2v1h-2zM147 81h2v1h-2zM168 81h1v1h-1zM150 82h1v1h-1zM154 82h1v1h-1zM157 83h1v1h-1zM145 84h1v1h-1zM154 84h1v1h-1zM159 84h1v1h-1zM158 85h2v1h-2zM161 85h2v1h-2zM150 86h1v1h-1zM162 86h1v1h-1zM153 87h1v1h-1zM172 87h1v1h-1zM147 89h1v1h-1zM155 89h1v1h-1zM163 89h2v1h-2zM166 89h1v1h-1zM168 89h1v1h-1zM154 90h1v1h-1zM161 90h1v1h-1zM156 92h1v1h-1zM147 94h1v1h-1zM154 94h1v1h-1zM166 94h1v1h-1zM163 95h1v1h-1zM171 95h1v1h-1zM160 97h1v1h-1zM157 98h1v1h-1zM151 99h1v1h-1zM146 100h1v1h-1zM152 101h1v1h-1zM157 102h1v1h-1zM174 102h1v1h-1zM142 103h1v1h-1zM149 104h1v1h-1zM154 104h1v1h-1zM157 104h1v1h-1zM165 105h1v1h-1zM161 108h1v1h-1zM163 111h1v1h-1zM140 112h1v1h-1zM141 114h1v1h-1zM161 115h1v1h-1zM160 116h1v1h-1zM162 116h1v1h-1zM164 120h1v1h-1zM156 122h1v1h-1zM145 127h1v1h-1zM164 128h1v1h-1zM143 129h1v1h-1zM145 129h1v1h-1zM157 135h1v1h-1zM146 138h1v1h-1zM153 139h1v1h-1zM164 139h1v1h-1zM159 141h1v1h-1zM143 143h1v1h-1zM151 143h1v1h-1zM154 143h1v1h-1zM145 144h1v1h-1zM161 145h1v1h-1zM143 146h1v1h-1zM162 147h1v1h-1zM145 148h1v1h-1zM150 148h1v1h-1zM158 148h1v1h-1zM149 149h1v1h-1zM145 150h1v1h-1zM149 151h1v1h-1zM157 151h1v1h-1zM160 151h1v1h-1zM163 151h1v1h-1zM153 152h1v1h-1zM162 152h1v1h-1zM164 152h1v1h-1zM167 152h1v1h-1zM143 153h1v1h-1zM145 153h1v1h-1zM148 153h1v1h-1zM151 153h1v1h-1zM147 154h1v1h-1zM152 154h1v1h-1zM159 154h1v1h-1zM162 154h1v1h-1zM148 155h1v1h-1zM144 156h1v1h-1zM146 156h2v1h-2zM167 156h1v1h-1zM169 156h1v1h-1zM142 157h1v1h-1zM164 157h2v1h-2zM138 158h2v1h-2zM171 158h1v1h-1zM142 159h1v1h-1zM166 159h2v1h-2zM139 160h1v1h-1zM144 160h1v1h-1zM170 160h1v1h-1zM172 160h1v1h-1zM139 161h1v1h-1zM142 161h1v1h-1zM144 161h3v1h-3zM142 162h1v1h-1zM144 162h2v1h-2zM166 162h1v1h-1zM168 162h1v1h-1zM142 163h2v1h-2zM168 163h2v1h-2zM140 164h1v1h-1zM170 164h1v1h-1zM168 165h1v1h-1zM144 166h1v1h-1zM160 166h1v1h-1zM162 166h1v1h-1zM166 166h1v1h-1zM142 167h1v1h-1zM159 167h1v1h-1zM170 167h1v1h-1zM142 168h1v1h-1zM145 169h1v1h-1zM149 169h1v1h-1zM151 169h1v1h-1zM155 169h1v1h-1zM157 169h1v1h-1zM161 169h1v1h-1zM148 170h1v1h-1zM154 170h1v1h-1zM159 170h1v1h-1zM161 170h2v1h-2zM150 171h2v1h-2zM154 171h1v1h-1zM159 171h2v1h-2zM162 171h1v1h-1zM159 172h1v1h-1zM143 173h1v1h-1zM158 174h1v1h-1zM152 179h1v1h-1z" fill="#000" fill-opacity="0.95"/><path d="M168 64h1v1h-1zM151 67h1v1h-1zM153 75h1v1h-1zM155 75h1v1h-1zM162 80h1v1h-1zM151 81h1v1h-1zM156 82h1v1h-1zM159 82h1v1h-1zM146 83h1v1h-1zM150 83h1v1h-1zM164 86h1v1h-1zM160 88h1v1h-1zM165 91h1v1h-1zM151 94h1v1h-1zM163 94h1v1h-1zM143 99h1v1h-1zM143 100h1v1h-1zM170 102h1v1h-1zM164 103h1v1h-1zM144 115h1v1h-1zM151 120h1v1h-1zM153 149h1v1h-1zM163 149h1v1h-1zM152 150h1v1h-1zM148 151h1v1h-1zM155 151h1v1h-1zM158 151h2v1h-2zM162 151h1v1h-1zM151 152h2v1h-2zM154 152h2v1h-2zM157 152h3v1h-3zM161 152h1v1h-1zM146 153h2v1h-2zM149 153h1v1h-1zM152 153h2v1h-2zM155 153h7v1h-7zM163 153h1v1h-1zM166 153h1v1h-1zM149 154h1v1h-1zM151 154h1v1h-1zM154 154h5v1h-5zM160 154h2v1h-2zM163 154h1v1h-1zM147 155h1v1h-1zM149 155h5v1h-5zM155 155h6v1h-6zM162 155h4v1h-4zM143 156h1v1h-1zM148 156h18v1h-18zM141 157h1v1h-1zM144 157h1v1h-1zM146 157h18v1h-18zM166 157h2v1h-2zM144 158h22v1h-22zM167 158h1v1h-1zM144 159h22v1h-22zM169 159h1v1h-1zM143 160h1v1h-1zM145 160h20v1h-20zM166 160h2v1h-2zM171 160h1v1h-1zM147 161h20v1h-20zM143 162h1v1h-1zM146 162h20v1h-20zM144 163h24v1h-24zM143 164h2v1h-2zM146 164h20v1h-20zM167 164h2v1h-2zM144 165h3v1h-3zM148 165h20v1h-20zM145 166h3v1h-3zM149 166h9v1h-9zM159 166h1v1h-1zM161 166h1v1h-1zM163 166h3v1h-3zM141 167h1v1h-1zM148 167h11v1h-11zM160 167h1v1h-1zM162 167h1v1h-1zM165 167h2v1h-2zM145 168h1v1h-1zM147 168h8v1h-8zM156 168h5v1h-5zM163 168h4v1h-4zM150 169h1v1h-1zM152 169h1v1h-1zM154 169h1v1h-1zM158 169h1v1h-1zM160 169h1v1h-1zM166 169h1v1h-1zM150 170h1v1h-1zM152 170h1v1h-1zM155 170h1v1h-1zM158 170h1v1h-1zM153 171h1v1h-1zM145 172h1v1h-1zM153 172h1v1h-1zM155 173h1v1h-1zM157 173h1v1h-1zM164 175h1v1h-1z" fill="#000" fill-opacity="0.98"/><path d="M383 45h1v1h-1zM379 47h1v1h-1zM370 52h1v1h-1zM372 52h1v1h-1zM370 53h1v1h-1zM368 54h1v1h-1zM389 54h1v1h-1zM365 56h1v1h-1zM387 56h1v1h-1zM389 56h1v1h-1zM378 57h1v1h-1zM381 57h1v1h-1zM365 58h1v1h-1zM379 58h1v1h-1zM389 59h1v1h-1zM381 60h1v1h-1zM390 60h1v1h-1zM368 61h1v1h-1zM381 61h1v1h-1zM391 61h1v1h-1zM365 62h1v1h-1zM370 63h1v1h-1zM372 63h1v1h-1zM378 63h1v1h-1zM389 63h1v1h-1zM391 63h2v1h-2zM371 64h1v1h-1zM377 64h2v1h-2zM370 65h3v1h-3zM376 65h1v1h-1zM380 65h1v1h-1zM388 65h1v1h-1zM373 66h1v1h-1zM369 67h2v1h-2zM386 67h1v1h-1zM391 67h2v1h-2zM374 68h1v1h-1zM378 68h1v1h-1zM380 68h1v1h-1zM386 68h1v1h-1zM368 69h1v1h-1zM373 69h1v1h-1zM375 69h1v1h-1zM382 69h1v1h-1zM387 69h1v1h-1zM365 70h1v1h-1zM373 70h1v1h-1zM375 70h1v1h-1zM379 70h1v1h-1zM387 70h1v1h-1zM390 70h1v1h-1zM367 71h1v1h-1zM370 71h1v1h-1zM378 71h1v1h-1zM387 71h1v1h-1zM389 71h1v1h-1zM368 72h1v1h-1zM380 72h2v1h-2zM391 72h1v1h-1zM376 73h2v1h-2zM382 73h2v1h-2zM385 73h1v1h-1zM387 73h1v1h-1zM389 73h1v1h-1zM392 73h1v1h-1zM365 74h1v1h-1zM374 74h1v1h-1zM379 74h1v1h-1zM383 74h1v1h-1zM386 74h1v1h-1zM365 75h2v1h-2zM373 75h1v1h-1zM380 75h1v1h-1zM384 75h2v1h-2zM391 75h1v1h-1zM366 76h4v1h-4zM372 76h2v1h-2zM379 76h1v1h-1zM383 76h1v1h-1zM385 76h1v1h-1zM387 76h1v1h-1zM389 76h1v1h-1zM391 76h1v1h-1zM371 77h2v1h-2zM380 77h4v1h-4zM390 77h1v1h-1zM392 77h1v1h-1zM366 78h1v1h-1zM371 78h1v1h-1zM374 78h1v1h-1zM377 78h2v1h-2zM386 78h1v1h-1zM388 78h1v1h-1zM364 79h1v1h-1zM366 79h2v1h-2zM369 79h2v1h-2zM373 79h2v1h-2zM376 79h1v1h-1zM378 79h1v1h-1zM384 79h3v1h-3zM388 79h1v1h-1zM391 79h1v1h-1zM366 80h1v1h-1zM372 80h1v1h-1zM378 80h1v1h-1zM381 80h1v1h-1zM383 80h1v1h-1zM386 80h2v1h-2zM365 81h2v1h-2zM369 81h1v1h-1zM372 81h1v1h-1zM383 81h1v1h-1zM389 81h1v1h-1zM391 81h1v1h-1zM372 82h2v1h-2zM376 82h2v1h-2zM381 82h1v1h-1zM383 82h3v1h-3zM387 82h2v1h-2zM390 82h1v1h-1zM395 82h1v1h-1zM364 83h3v1h-3zM382 83h1v1h-1zM386 83h1v1h-1zM388 83h2v1h-2zM392 83h1v1h-1zM366 84h1v1h-1zM374 84h1v1h-1zM381 84h1v1h-1zM384 84h1v1h-1zM387 84h2v1h-2zM390 84h2v1h-2zM372 85h2v1h-2zM377 85h1v1h-1zM380 85h1v1h-1zM383 85h2v1h-2zM392 85h1v1h-1zM363 86h2v1h-2zM366 86h1v1h-1zM370 86h1v1h-1zM373 86h3v1h-3zM379 86h1v1h-1zM385 86h3v1h-3zM389 86h1v1h-1zM391 86h2v1h-2zM363 87h2v1h-2zM366 87h1v1h-1zM368 87h1v1h-1zM371 87h1v1h-1zM375 87h3v1h-3zM379 87h1v1h-1zM382 87h1v1h-1zM385 87h1v1h-1zM389 87h1v1h-1zM395 87h1v1h-1zM365 88h1v1h-1zM367 88h1v1h-1zM369 88h1v1h-1zM373 88h1v1h-1zM386 88h1v1h-1zM390 88h2v1h-2zM393 88h1v1h-1zM368 89h1v1h-1zM371 89h1v1h-1zM373 89h4v1h-4zM378 89h1v1h-1zM380 89h1v1h-1zM391 89h1v1h-1zM395 89h1v1h-1zM364 90h1v1h-1zM366 90h1v1h-1zM370 90h1v1h-1zM372 90h1v1h-1zM374 90h2v1h-2zM377 90h1v1h-1zM385 90h1v1h-1zM388 90h1v1h-1zM390 90h3v1h-3zM394 90h1v1h-1zM364 91h3v1h-3zM370 91h1v1h-1zM372 91h2v1h-2zM375 91h2v1h-2zM378 91h1v1h-1zM380 91h1v1h-1zM383 91h3v1h-3zM388 91h1v1h-1zM392 91h1v1h-1zM396 91h1v1h-1zM363 92h1v1h-1zM368 92h1v1h-1zM375 92h1v1h-1zM378 92h4v1h-4zM383 92h1v1h-1zM386 92h1v1h-1zM388 92h1v1h-1zM390 92h1v1h-1zM393 92h1v1h-1zM395 92h1v1h-1zM363 93h1v1h-1zM367 93h1v1h-1zM372 93h1v1h-1zM376 93h1v1h-1zM378 93h1v1h-1zM380 93h1v1h-1zM382 93h2v1h-2zM387 93h1v1h-1zM390 93h1v1h-1zM393 93h2v1h-2zM398 93h1v1h-1zM364 94h4v1h-4zM371 94h1v1h-1zM380 94h1v1h-1zM388 94h1v1h-1zM390 94h1v1h-1zM361 95h1v1h-1zM366 95h1v1h-1zM369 95h1v1h-1zM372 95h1v1h-1zM378 95h2v1h-2zM382 95h1v1h-1zM385 95h2v1h-2zM391 95h1v1h-1zM367 96h2v1h-2zM370 96h1v1h-1zM376 96h1v1h-1zM381 96h1v1h-1zM383 96h1v1h-1zM385 96h1v1h-1zM387 96h1v1h-1zM389 96h1v1h-1zM363 97h2v1h-2zM367 97h2v1h-2zM371 97h2v1h-2zM374 97h1v1h-1zM378 97h2v1h-2zM381 97h1v1h-1zM386 97h1v1h-1zM360 98h1v1h-1zM368 98h2v1h-2zM372 98h1v1h-1zM374 98h1v1h-1zM378 98h1v1h-1zM380 98h2v1h-2zM385 98h2v1h-2zM394 98h1v1h-1zM362 99h1v1h-1zM366 99h3v1h-3zM371 99h1v1h-1zM373 99h1v1h-1zM379 99h2v1h-2zM384 99h1v1h-1zM389 99h1v1h-1zM395 99h1v1h-1zM363 100h2v1h-2zM368 100h1v1h-1zM386 100h1v1h-1zM362 101h1v1h-1zM377 101h1v1h-1zM379 101h1v1h-1zM387 101h1v1h-1zM389 101h1v1h-1zM393 101h1v1h-1zM367 102h1v1h-1zM370 102h1v1h-1zM376 102h2v1h-2zM381 102h2v1h-2zM386 102h1v1h-1zM393 102h1v1h-1zM367 103h1v1h-1zM372 103h2v1h-2zM377 103h2v1h-2zM380 103h1v1h-1zM383 103h1v1h-1zM385 103h1v1h-1zM359 104h1v1h-1zM364 104h1v1h-1zM366 104h1v1h-1zM369 104h2v1h-2zM372 104h1v1h-1zM378 104h1v1h-1zM381 104h1v1h-1zM391 104h1v1h-1zM394 104h1v1h-1zM397 104h1v1h-1zM366 105h1v1h-1zM370 105h1v1h-1zM372 105h1v1h-1zM374 105h1v1h-1zM381 105h2v1h-2zM390 105h2v1h-2zM393 105h1v1h-1zM362 106h5v1h-5zM368 106h1v1h-1zM371 106h1v1h-1zM378 106h3v1h-3zM383 106h1v1h-1zM389 106h1v1h-1zM393 106h1v1h-1zM365 107h2v1h-2zM381 107h4v1h-4zM386 107h2v1h-2zM364 108h6v1h-6zM374 108h1v1h-1zM376 108h4v1h-4zM387 108h1v1h-1zM390 108h2v1h-2zM364 109h1v1h-1zM378 109h1v1h-1zM380 109h1v1h-1zM382 109h1v1h-1zM386 109h1v1h-1zM389 109h1v1h-1zM393 109h1v1h-1zM367 110h1v1h-1zM369 110h1v1h-1zM371 110h1v1h-1zM373 110h1v1h-1zM376 110h2v1h-2zM380 110h1v1h-1zM383 110h4v1h-4zM390 110h2v1h-2zM364 111h1v1h-1zM367 111h3v1h-3zM371 111h1v1h-1zM374 111h2v1h-2zM379 111h2v1h-2zM383 111h9v1h-9zM393 111h2v1h-2zM398 111h1v1h-1zM362 112h1v1h-1zM366 112h1v1h-1zM368 112h1v1h-1zM371 112h1v1h-1zM373 112h4v1h-4zM385 112h1v1h-1zM394 112h1v1h-1zM370 113h1v1h-1zM372 113h1v1h-1zM374 113h1v1h-1zM379 113h7v1h-7zM390 113h2v1h-2zM361 114h1v1h-1zM366 114h1v1h-1zM369 114h1v1h-1zM386 114h1v1h-1zM391 114h2v1h-2zM396 114h1v1h-1zM372 115h2v1h-2zM377 115h1v1h-1zM379 115h2v1h-2zM382 115h4v1h-4zM391 115h1v1h-1zM394 115h1v1h-1zM361 116h1v1h-1zM366 116h3v1h-3zM370 116h1v1h-1zM374 116h1v1h-1zM377 116h1v1h-1zM380 116h1v1h-1zM382 116h1v1h-1zM384 116h1v1h-1zM390 116h2v1h-2zM396 116h1v1h-1zM364 117h2v1h-2zM367 117h1v1h-1zM372 117h1v1h-1zM375 117h1v1h-1zM378 117h1v1h-1zM380 117h1v1h-1zM383 117h1v1h-1zM385 117h1v1h-1zM389 117h1v1h-1zM393 117h2v1h-2zM362 118h1v1h-1zM365 118h1v1h-1zM370 118h1v1h-1zM372 118h1v1h-1zM375 118h1v1h-1zM377 118h1v1h-1zM383 118h1v1h-1zM388 118h2v1h-2zM396 118h1v1h-1zM365 119h1v1h-1zM372 119h2v1h-2zM381 119h2v1h-2zM385 119h2v1h-2zM388 119h2v1h-2zM392 119h1v1h-1zM394 119h3v1h-3zM369 120h1v1h-1zM371 120h2v1h-2zM374 120h3v1h-3zM378 120h2v1h-2zM381 120h1v1h-1zM384 120h1v1h-1zM390 120h2v1h-2zM394 120h1v1h-1zM374 121h1v1h-1zM377 121h1v1h-1zM380 121h1v1h-1zM384 121h1v1h-1zM389 121h1v1h-1zM364 122h2v1h-2zM368 122h3v1h-3zM373 122h1v1h-1zM376 122h1v1h-1zM378 122h4v1h-4zM384 122h1v1h-1zM392 122h1v1h-1zM394 122h1v1h-1zM367 123h1v1h-1zM370 123h1v1h-1zM374 123h4v1h-4zM379 123h1v1h-1zM383 123h1v1h-1zM388 123h1v1h-1zM391 123h1v1h-1zM361 124h1v1h-1zM365 124h1v1h-1zM367 124h2v1h-2zM373 124h1v1h-1zM378 124h1v1h-1zM380 124h2v1h-2zM386 124h1v1h-1zM388 124h2v1h-2zM398 124h1v1h-1zM362 125h1v1h-1zM366 125h2v1h-2zM369 125h2v1h-2zM373 125h3v1h-3zM381 125h2v1h-2zM384 125h2v1h-2zM387 125h1v1h-1zM389 125h2v1h-2zM366 126h1v1h-1zM368 126h1v1h-1zM370 126h3v1h-3zM374 126h1v1h-1zM376 126h1v1h-1zM379 126h2v1h-2zM383 126h1v1h-1zM386 126h1v1h-1zM389 126h1v1h-1zM364 127h1v1h-1zM366 127h1v1h-1zM372 127h2v1h-2zM375 127h5v1h-5zM385 127h2v1h-2zM388 127h1v1h-1zM367 128h1v1h-1zM371 128h1v1h-1zM375 128h1v1h-1zM381 128h1v1h-1zM383 128h3v1h-3zM388 128h2v1h-2zM392 128h1v1h-1zM394 128h1v1h-1zM368 129h2v1h-2zM372 129h2v1h-2zM378 129h2v1h-2zM381 129h1v1h-1zM383 129h1v1h-1zM385 129h3v1h-3zM390 129h1v1h-1zM364 130h2v1h-2zM371 130h2v1h-2zM376 130h3v1h-3zM383 130h3v1h-3zM389 130h1v1h-1zM393 130h2v1h-2zM363 131h2v1h-2zM367 131h1v1h-1zM370 131h3v1h-3zM375 131h1v1h-1zM379 131h2v1h-2zM382 131h1v1h-1zM384 131h2v1h-2zM392 131h1v1h-1zM365 132h1v1h-1zM369 132h1v1h-1zM372 132h1v1h-1zM375 132h1v1h-1zM377 132h1v1h-1zM381 132h2v1h-2zM387 132h1v1h-1zM392 132h1v1h-1zM363 133h1v1h-1zM369 133h1v1h-1zM373 133h1v1h-1zM380 133h2v1h-2zM383 133h2v1h-2zM388 133h1v1h-1zM392 133h1v1h-1zM364 134h1v1h-1zM367 134h3v1h-3zM371 134h2v1h-2zM378 134h1v1h-1zM380 134h1v1h-1zM388 134h1v1h-1zM390 134h2v1h-2zM394 134h1v1h-1zM366 135h2v1h-2zM369 135h1v1h-1zM372 135h6v1h-6zM381 135h2v1h-2zM385 135h2v1h-2zM388 135h1v1h-1zM391 135h1v1h-1zM363 136h2v1h-2zM370 136h2v1h-2zM378 136h4v1h-4zM385 136h2v1h-2zM390 136h2v1h-2zM395 136h1v1h-1zM362 137h1v1h-1zM365 137h1v1h-1zM370 137h3v1h-3zM374 137h2v1h-2zM377 137h1v1h-1zM379 137h2v1h-2zM382 137h2v1h-2zM391 137h1v1h-1zM367 138h1v1h-1zM373 138h2v1h-2zM376 138h5v1h-5zM383 138h1v1h-1zM386 138h1v1h-1zM390 138h1v1h-1zM394 138h1v1h-1zM398 138h1v1h-1zM362 139h2v1h-2zM365 139h5v1h-5zM373 139h1v1h-1zM377 139h1v1h-1zM380 139h1v1h-1zM382 139h1v1h-1zM387 139h1v1h-1zM389 139h3v1h-3zM393 139h3v1h-3zM363 140h3v1h-3zM369 140h3v1h-3zM375 140h1v1h-1zM379 140h3v1h-3zM384 140h1v1h-1zM387 140h3v1h-3zM395 140h1v1h-1zM367 141h1v1h-1zM372 141h1v1h-1zM375 141h1v1h-1zM384 141h4v1h-4zM362 142h1v1h-1zM366 142h2v1h-2zM371 142h1v1h-1zM375 142h1v1h-1zM378 142h1v1h-1zM380 142h1v1h-1zM382 142h1v1h-1zM385 142h1v1h-1zM370 143h2v1h-2zM376 143h1v1h-1zM378 143h2v1h-2zM385 143h1v1h-1zM388 143h4v1h-4zM359 144h1v1h-1zM366 144h1v1h-1zM368 144h1v1h-1zM372 144h1v1h-1zM374 144h2v1h-2zM377 144h1v1h-1zM381 144h1v1h-1zM383 144h2v1h-2zM390 144h2v1h-2zM393 144h1v1h-1zM369 145h1v1h-1zM374 145h2v1h-2zM377 145h2v1h-2zM381 145h2v1h-2zM384 145h4v1h-4zM389 145h2v1h-2zM394 145h1v1h-1zM370 146h4v1h-4zM377 146h1v1h-1zM381 146h1v1h-1zM384 146h1v1h-1zM393 146h2v1h-2zM366 147h1v1h-1zM368 147h2v1h-2zM371 147h1v1h-1zM374 147h1v1h-1zM377 147h2v1h-2zM381 147h1v1h-1zM383 147h2v1h-2zM386 147h1v1h-1zM388 147h1v1h-1zM394 147h1v1h-1zM363 148h1v1h-1zM367 148h4v1h-4zM377 148h2v1h-2zM381 148h3v1h-3zM386 148h2v1h-2zM392 148h2v1h-2zM352 149h1v1h-1zM360 149h1v1h-1zM364 149h1v1h-1zM367 149h2v1h-2zM372 149h4v1h-4zM377 149h1v1h-1zM379 149h1v1h-1zM382 149h1v1h-1zM387 149h1v1h-1zM394 149h1v1h-1zM365 150h2v1h-2zM369 150h1v1h-1zM380 150h1v1h-1zM382 150h1v1h-1zM385 150h1v1h-1zM390 150h1v1h-1zM392 150h2v1h-2zM367 151h3v1h-3zM377 151h2v1h-2zM380 151h1v1h-1zM382 151h2v1h-2zM385 151h3v1h-3zM393 151h1v1h-1zM365 152h1v1h-1zM378 152h3v1h-3zM387 152h4v1h-4zM362 153h2v1h-2zM365 153h3v1h-3zM369 153h1v1h-1zM371 153h1v1h-1zM380 153h1v1h-1zM388 153h2v1h-2zM391 153h1v1h-1zM393 153h1v1h-1zM395 153h1v1h-1zM361 154h1v1h-1zM368 154h2v1h-2zM372 154h2v1h-2zM384 154h1v1h-1zM387 154h2v1h-2zM390 154h1v1h-1zM393 154h2v1h-2zM362 155h1v1h-1zM364 155h1v1h-1zM366 155h1v1h-1zM370 155h1v1h-1zM382 155h1v1h-1zM391 155h1v1h-1zM360 156h1v1h-1zM365 156h1v1h-1zM367 156h1v1h-1zM374 156h1v1h-1zM384 156h4v1h-4zM389 156h1v1h-1zM391 156h1v1h-1zM394 156h1v1h-1zM360 157h1v1h-1zM362 157h1v1h-1zM368 157h1v1h-1zM391 157h1v1h-1zM393 157h3v1h-3zM360 158h1v1h-1zM364 158h2v1h-2zM388 158h1v1h-1zM392 158h1v1h-1zM358 159h1v1h-1zM362 159h2v1h-2zM391 159h2v1h-2zM360 160h1v1h-1zM368 160h1v1h-1zM391 160h1v1h-1zM395 160h2v1h-2zM361 161h2v1h-2zM364 161h1v1h-1zM366 161h1v1h-1zM389 161h1v1h-1zM391 161h1v1h-1zM356 162h1v1h-1zM360 162h1v1h-1zM363 162h1v1h-1zM365 162h1v1h-1zM390 162h1v1h-1zM392 162h1v1h-1zM395 162h3v1h-3zM362 163h1v1h-1zM367 163h1v1h-1zM392 163h2v1h-2zM359 164h3v1h-3zM363 164h1v1h-1zM386 164h1v1h-1zM390 164h1v1h-1zM392 164h1v1h-1zM396 164h1v1h-1zM402 164h1v1h-1zM359 165h1v1h-1zM361 165h1v1h-1zM366 165h2v1h-2zM388 165h1v1h-1zM390 165h1v1h-1zM360 166h2v1h-2zM365 166h1v1h-1zM368 166h1v1h-1zM383 166h1v1h-1zM389 166h1v1h-1zM391 166h1v1h-1zM393 166h1v1h-1zM361 167h1v1h-1zM364 167h1v1h-1zM367 167h1v1h-1zM386 167h1v1h-1zM388 167h1v1h-1zM390 167h2v1h-2zM394 167h1v1h-1zM363 168h4v1h-4zM392 168h1v1h-1zM395 168h1v1h-1zM363 169h2v1h-2zM367 169h2v1h-2zM372 169h1v1h-1zM380 169h1v1h-1zM387 169h2v1h-2zM391 169h3v1h-3zM396 169h1v1h-1zM370 170h1v1h-1zM372 170h1v1h-1zM376 170h1v1h-1zM380 170h1v1h-1zM382 170h1v1h-1zM387 170h2v1h-2zM393 170h1v1h-1zM399 170h1v1h-1zM362 171h1v1h-1zM365 171h1v1h-1zM368 171h2v1h-2zM374 171h1v1h-1zM382 171h1v1h-1zM367 172h1v1h-1zM373 172h1v1h-1zM377 172h3v1h-3zM382 172h2v1h-2zM387 172h1v1h-1zM389 172h1v1h-1zM393 172h1v1h-1zM362 173h1v1h-1zM364 173h1v1h-1zM372 173h2v1h-2zM378 173h1v1h-1zM382 173h2v1h-2zM369 174h1v1h-1zM374 174h1v1h-1zM376 174h1v1h-1zM378 174h3v1h-3zM382 174h1v1h-1zM385 174h1v1h-1zM389 174h1v1h-1zM364 175h1v1h-1zM371 175h2v1h-2zM374 175h1v1h-1zM376 175h2v1h-2zM381 175h2v1h-2zM386 175h1v1h-1zM389 175h1v1h-1zM373 176h2v1h-2zM377 176h1v1h-1zM384 176h1v1h-1zM366 177h1v1h-1zM370 177h1v1h-1zM372 177h1v1h-1zM381 177h1v1h-1zM360 178h1v1h-1zM378 178h1v1h-1zM381 178h2v1h-2zM374 179h1v1h-1zM378 179h1v1h-1zM384 179h1v1h-1zM386 179h1v1h-1zM371 180h1v1h-1zM374 180h1v1h-1zM378 180h1v1h-1zM384 181h1v1h-1zM389 181h1v1h-1zM373 182h1v1h-1zM384 182h1v1h-1zM385 183h1v1h-1zM370 185h1v1h-1z" fill="#000" fill-opacity="0.62"/><path d="M380 61h1v1h-1zM385 61h1v1h-1zM386 64h1v1h-1zM374 66h1v1h-1zM378 66h1v1h-1zM372 67h1v1h-1zM371 68h1v1h-1zM382 70h1v1h-1zM369 71h1v1h-1zM376 72h1v1h-1zM379 72h1v1h-1zM387 72h2v1h-2zM380 73h1v1h-1zM372 75h1v1h-1zM375 75h1v1h-1zM378 75h1v1h-1zM383 75h1v1h-1zM387 75h1v1h-1zM371 76h1v1h-1zM374 76h1v1h-1zM377 76h1v1h-1zM367 77h1v1h-1zM384 77h1v1h-1zM369 78h1v1h-1zM373 78h1v1h-1zM384 78h1v1h-1zM380 79h1v1h-1zM383 79h1v1h-1zM390 79h1v1h-1zM367 80h1v1h-1zM379 80h1v1h-1zM370 81h2v1h-2zM373 81h1v1h-1zM384 81h1v1h-1zM364 82h1v1h-1zM379 82h1v1h-1zM368 83h1v1h-1zM379 84h1v1h-1zM382 84h1v1h-1zM375 85h1v1h-1zM379 85h1v1h-1zM389 85h1v1h-1zM376 86h1v1h-1zM383 86h1v1h-1zM373 87h1v1h-1zM381 87h1v1h-1zM366 88h1v1h-1zM370 88h2v1h-2zM375 88h1v1h-1zM392 88h1v1h-1zM370 89h1v1h-1zM371 90h1v1h-1zM383 90h2v1h-2zM387 90h1v1h-1zM389 90h1v1h-1zM379 91h1v1h-1zM391 91h1v1h-1zM376 92h2v1h-2zM381 93h1v1h-1zM384 93h1v1h-1zM386 93h1v1h-1zM395 93h1v1h-1zM373 94h2v1h-2zM377 94h1v1h-1zM383 94h2v1h-2zM389 94h1v1h-1zM394 94h1v1h-1zM368 95h1v1h-1zM377 95h1v1h-1zM387 95h1v1h-1zM389 95h1v1h-1zM371 96h1v1h-1zM375 96h1v1h-1zM377 96h1v1h-1zM380 96h1v1h-1zM382 96h1v1h-1zM376 97h1v1h-1zM391 97h1v1h-1zM366 98h1v1h-1zM373 98h1v1h-1zM382 98h1v1h-1zM376 99h1v1h-1zM381 99h1v1h-1zM383 99h1v1h-1zM387 99h1v1h-1zM391 99h1v1h-1zM373 100h2v1h-2zM387 100h1v1h-1zM371 101h1v1h-1zM374 101h1v1h-1zM383 101h1v1h-1zM375 102h1v1h-1zM379 102h2v1h-2zM387 102h1v1h-1zM391 102h1v1h-1zM374 103h2v1h-2zM387 103h4v1h-4zM383 104h1v1h-1zM389 104h1v1h-1zM386 105h1v1h-1zM374 106h1v1h-1zM376 106h1v1h-1zM368 107h1v1h-1zM379 107h1v1h-1zM389 107h1v1h-1zM372 108h1v1h-1zM383 108h1v1h-1zM392 109h1v1h-1zM381 110h1v1h-1zM392 110h1v1h-1zM365 111h1v1h-1zM370 111h1v1h-1zM392 111h1v1h-1zM372 112h1v1h-1zM379 112h3v1h-3zM384 112h1v1h-1zM389 112h1v1h-1zM375 113h1v1h-1zM387 113h1v1h-1zM389 113h1v1h-1zM392 113h1v1h-1zM373 114h1v1h-1zM378 114h1v1h-1zM381 114h1v1h-1zM388 114h1v1h-1zM390 114h1v1h-1zM374 115h1v1h-1zM376 115h1v1h-1zM378 115h1v1h-1zM389 115h1v1h-1zM369 116h1v1h-1zM372 116h1v1h-1zM375 116h1v1h-1zM385 116h2v1h-2zM376 117h1v1h-1zM379 117h1v1h-1zM381 117h1v1h-1zM391 117h1v1h-1zM369 118h1v1h-1zM363 119h1v1h-1zM375 119h1v1h-1zM384 119h1v1h-1zM373 120h1v1h-1zM377 120h1v1h-1zM380 120h1v1h-1zM383 120h1v1h-1zM392 120h1v1h-1zM371 121h1v1h-1zM373 121h1v1h-1zM376 121h1v1h-1zM379 121h1v1h-1zM386 122h1v1h-1zM369 123h1v1h-1zM386 123h1v1h-1zM392 123h1v1h-1zM366 124h1v1h-1zM370 124h1v1h-1zM374 124h2v1h-2zM385 124h1v1h-1zM390 124h1v1h-1zM381 126h1v1h-1zM387 126h1v1h-1zM391 126h1v1h-1zM374 127h1v1h-1zM389 127h2v1h-2zM377 128h1v1h-1zM367 129h1v1h-1zM370 129h1v1h-1zM388 129h1v1h-1zM367 130h1v1h-1zM369 130h1v1h-1zM373 130h1v1h-1zM375 130h1v1h-1zM380 130h2v1h-2zM388 130h1v1h-1zM390 130h1v1h-1zM368 131h1v1h-1zM374 131h1v1h-1zM381 131h1v1h-1zM383 131h1v1h-1zM393 131h1v1h-1zM368 132h1v1h-1zM371 132h1v1h-1zM373 132h2v1h-2zM383 132h1v1h-1zM388 132h2v1h-2zM367 133h2v1h-2zM372 133h1v1h-1zM375 133h1v1h-1zM377 133h3v1h-3zM377 134h1v1h-1zM371 135h1v1h-1zM379 135h1v1h-1zM390 135h1v1h-1zM368 136h1v1h-1zM387 136h1v1h-1zM368 137h1v1h-1zM378 137h1v1h-1zM387 137h1v1h-1zM393 137h1v1h-1zM368 138h1v1h-1zM384 138h1v1h-1zM387 138h1v1h-1zM389 138h1v1h-1zM391 138h1v1h-1zM393 138h1v1h-1zM385 139h2v1h-2zM366 140h3v1h-3zM374 140h1v1h-1zM376 140h1v1h-1zM382 140h1v1h-1zM378 141h2v1h-2zM382 141h1v1h-1zM393 141h1v1h-1zM365 142h1v1h-1zM370 142h1v1h-1zM373 142h2v1h-2zM379 142h1v1h-1zM381 142h1v1h-1zM383 142h1v1h-1zM386 142h1v1h-1zM388 142h2v1h-2zM365 143h1v1h-1zM369 143h1v1h-1zM374 143h1v1h-1zM387 143h1v1h-1zM367 144h1v1h-1zM369 144h1v1h-1zM371 144h1v1h-1zM376 144h1v1h-1zM379 144h1v1h-1zM382 144h1v1h-1zM385 144h1v1h-1zM387 144h1v1h-1zM368 145h1v1h-1zM371 145h1v1h-1zM365 146h2v1h-2zM368 146h1v1h-1zM382 146h1v1h-1zM390 146h2v1h-2zM365 147h1v1h-1zM370 147h1v1h-1zM372 147h1v1h-1zM376 147h1v1h-1zM387 147h1v1h-1zM371 148h1v1h-1zM379 148h1v1h-1zM388 148h2v1h-2zM371 149h1v1h-1zM383 149h1v1h-1zM391 149h1v1h-1zM367 150h1v1h-1zM370 150h1v1h-1zM375 150h2v1h-2zM379 150h1v1h-1zM386 150h2v1h-2zM370 151h2v1h-2zM376 151h1v1h-1zM388 151h1v1h-1zM391 151h1v1h-1zM371 152h1v1h-1zM374 152h2v1h-2zM372 153h1v1h-1zM375 153h2v1h-2zM378 153h1v1h-1zM370 154h1v1h-1zM374 154h1v1h-1zM377 154h2v1h-2zM380 154h1v1h-1zM368 155h2v1h-2zM383 155h1v1h-1zM387 155h1v1h-1zM390 155h1v1h-1zM394 155h1v1h-1zM366 156h1v1h-1zM368 156h2v1h-2zM388 156h1v1h-1zM390 156h1v1h-1zM392 156h1v1h-1zM365 157h2v1h-2zM371 157h1v1h-1zM373 157h1v1h-1zM392 157h1v1h-1zM368 158h1v1h-1zM386 158h1v1h-1zM391 158h1v1h-1zM366 159h1v1h-1zM368 159h2v1h-2zM387 159h1v1h-1zM390 159h1v1h-1zM395 159h1v1h-1zM366 160h1v1h-1zM387 160h1v1h-1zM392 160h1v1h-1zM365 161h1v1h-1zM390 161h1v1h-1zM366 162h1v1h-1zM372 162h1v1h-1zM393 162h1v1h-1zM390 163h1v1h-1zM364 164h1v1h-1zM366 164h2v1h-2zM373 164h1v1h-1zM387 164h1v1h-1zM389 164h1v1h-1zM391 164h1v1h-1zM365 165h1v1h-1zM383 165h1v1h-1zM391 165h1v1h-1zM362 166h2v1h-2zM366 166h1v1h-1zM374 166h1v1h-1zM387 166h1v1h-1zM395 166h1v1h-1zM368 167h1v1h-1zM371 167h1v1h-1zM374 167h1v1h-1zM381 167h1v1h-1zM383 167h1v1h-1zM385 167h1v1h-1zM387 167h1v1h-1zM389 167h1v1h-1zM380 168h2v1h-2zM384 168h1v1h-1zM386 168h1v1h-1zM388 168h1v1h-1zM366 169h1v1h-1zM371 169h1v1h-1zM376 169h1v1h-1zM374 170h1v1h-1zM377 170h1v1h-1zM379 170h1v1h-1zM386 170h1v1h-1zM389 170h1v1h-1zM371 171h2v1h-2zM383 171h1v1h-1zM385 171h1v1h-1zM388 171h1v1h-1zM375 172h1v1h-1zM381 172h1v1h-1zM370 173h1v1h-1zM375 173h2v1h-2zM385 173h1v1h-1zM377 174h1v1h-1zM378 175h1v1h-1zM372 176h1v1h-1zM379 176h1v1h-1zM382 176h1v1h-1zM380 177h1v1h-1zM376 178h1v1h-1zM373 179h1v1h-1z" fill="#000" fill-opacity="0.86"/><path d="M370 74h1v1h-1zM380 76h1v1h-1zM390 81h1v1h-1zM378 83h1v1h-1zM372 88h1v1h-1zM389 89h1v1h-1zM390 91h1v1h-1zM374 93h1v1h-1zM372 94h1v1h-1zM379 94h1v1h-1zM393 94h1v1h-1zM374 96h1v1h-1zM384 96h1v1h-1zM387 98h1v1h-1zM369 100h1v1h-1zM388 101h1v1h-1zM368 102h1v1h-1zM383 102h1v1h-1zM371 103h1v1h-1zM381 106h1v1h-1zM386 106h1v1h-1zM388 106h1v1h-1zM373 107h1v1h-1zM373 108h1v1h-1zM381 108h2v1h-2zM368 109h1v1h-1zM388 110h1v1h-1zM372 111h1v1h-1zM370 114h1v1h-1zM372 114h1v1h-1zM367 118h1v1h-1zM379 119h1v1h-1zM368 121h1v1h-1zM384 124h1v1h-1zM383 125h1v1h-1zM371 127h1v1h-1zM376 129h1v1h-1zM376 131h1v1h-1zM384 132h1v1h-1zM369 136h1v1h-1zM373 136h1v1h-1zM369 137h1v1h-1zM384 137h1v1h-1zM392 139h1v1h-1zM368 141h1v1h-1zM380 141h1v1h-1zM383 141h1v1h-1zM389 144h1v1h-1zM379 145h1v1h-1zM392 145h1v1h-1zM375 146h1v1h-1zM380 147h1v1h-1zM375 148h1v1h-1zM391 148h1v1h-1zM381 149h1v1h-1zM386 149h1v1h-1zM364 150h1v1h-1zM381 150h1v1h-1zM366 151h1v1h-1zM373 151h1v1h-1zM379 151h1v1h-1zM381 151h1v1h-1zM384 151h1v1h-1zM366 152h1v1h-1zM368 152h1v1h-1zM370 152h1v1h-1zM373 152h1v1h-1zM385 152h1v1h-1zM373 153h2v1h-2zM379 153h1v1h-1zM383 153h1v1h-1zM387 153h1v1h-1zM367 154h1v1h-1zM371 154h1v1h-1zM381 154h1v1h-1zM373 155h1v1h-1zM386 155h1v1h-1zM380 156h1v1h-1zM382 156h1v1h-1zM377 157h1v1h-1zM381 157h1v1h-1zM387 157h1v1h-1zM389 157h1v1h-1zM367 158h1v1h-1zM373 158h1v1h-1zM367 159h1v1h-1zM388 159h1v1h-1zM393 159h1v1h-1zM388 160h3v1h-3zM394 161h1v1h-1zM369 162h1v1h-1zM371 162h1v1h-1zM366 163h1v1h-1zM370 163h2v1h-2zM368 164h1v1h-1zM370 164h1v1h-1zM375 164h1v1h-1zM370 165h1v1h-1zM374 165h1v1h-1zM386 165h1v1h-1zM367 166h1v1h-1zM370 166h2v1h-2zM375 166h2v1h-2zM380 167h1v1h-1zM384 167h1v1h-1zM368 168h1v1h-1zM371 168h1v1h-1zM377 168h1v1h-1zM379 168h1v1h-1zM382 168h1v1h-1zM387 168h1v1h-1zM390 168h1v1h-1zM369 169h1v1h-1zM382 169h1v1h-1zM369 170h1v1h-1zM373 170h1v1h-1zM375 170h1v1h-1zM378 170h1v1h-1zM384 170h1v1h-1zM376 171h1v1h-1zM380 171h2v1h-2zM387 171h1v1h-1zM372 172h1v1h-1zM388 173h1v1h-1zM375 174h1v1h-1z" fill="#000" fill-opacity="0.95"/><path d="M378 77h1v1h-1zM379 88h1v1h-1zM370 101h1v1h-1zM390 106h1v1h-1zM371 116h1v1h-1zM387 123h1v1h-1zM376 128h1v1h-1zM379 128h1v1h-1zM384 134h1v1h-1zM384 139h1v1h-1zM370 145h1v1h-1zM390 147h1v1h-1zM384 150h1v1h-1zM377 152h1v1h-1zM381 152h3v1h-3zM381 153h2v1h-2zM384 153h1v1h-1zM375 154h2v1h-2zM379 154h1v1h-1zM382 154h2v1h-2zM385 154h2v1h-2zM389 154h1v1h-1zM371 155h2v1h-2zM374 155h8v1h-8zM384 155h2v1h-2zM389 155h1v1h-1zM370 156h4v1h-4zM375 156h5v1h-5zM381 156h1v1h-1zM383 156h1v1h-1zM369 157h1v1h-1zM372 157h1v1h-1zM374 157h3v1h-3zM378 157h3v1h-3zM382 157h5v1h-5zM390 157h1v1h-1zM366 158h1v1h-1zM369 158h4v1h-4zM374 158h12v1h-12zM387 158h1v1h-1zM389 158h2v1h-2zM370 159h17v1h-17zM389 159h1v1h-1zM367 160h1v1h-1zM369 160h18v1h-18zM367 161h22v1h-22zM367 162h2v1h-2zM370 162h1v1h-1zM373 162h17v1h-17zM368 163h1v1h-1zM372 163h18v1h-18zM369 164h1v1h-1zM371 164h2v1h-2zM374 164h1v1h-1zM376 164h10v1h-10zM388 164h1v1h-1zM368 165h2v1h-2zM371 165h3v1h-3zM375 165h8v1h-8zM384 165h2v1h-2zM387 165h1v1h-1zM389 165h1v1h-1zM372 166h2v1h-2zM377 166h6v1h-6zM384 166h2v1h-2zM369 167h2v1h-2zM372 167h2v1h-2zM375 167h5v1h-5zM382 167h1v1h-1zM369 168h2v1h-2zM372 168h5v1h-5zM378 168h1v1h-1zM383 168h1v1h-1zM385 168h1v1h-1zM389 168h1v1h-1zM373 169h2v1h-2zM377 169h3v1h-3zM381 169h1v1h-1zM383 169h2v1h-2zM371 170h1v1h-1zM381 170h1v1h-1zM383 170h1v1h-1zM375 171h1v1h-1zM377 171h1v1h-1zM376 172h1v1h-1zM380 172h1v1h-1z" fill="#000" fill-opacity="0.98"/></g>
<line x1="55.6" y1="258.6" x2="55.6" y2="402.5" stroke="#000" stroke-width="1.6"/>
<line x1="54.800000000000004" y1="401.7" x2="238.6" y2="401.7" stroke="#000" stroke-width="1.6"/>
<line x1="52.4" y1="401.7" x2="55.6" y2="401.7" stroke="#000" stroke-width="1.3"/>
<text x="51.800000000000004" y="404.5" font-size="7.8" font-weight="bold" text-anchor="end" textLength="3.95" lengthAdjust="spacingAndGlyphs" fill="#000" stroke="#000" stroke-width="0.15">0</text>
<line x1="52.4" y1="365.94" x2="55.6" y2="365.94" stroke="#000" stroke-width="1.3"/>
<text x="51.800000000000004" y="368.74" font-size="7.8" font-weight="bold" text-anchor="end" textLength="7.9" lengthAdjust="spacingAndGlyphs" fill="#000" stroke="#000" stroke-width="0.15">20</text>
<line x1="52.4" y1="330.18" x2="55.6" y2="330.18" stroke="#000" stroke-width="1.3"/>
<text x="51.800000000000004" y="332.98" font-size="7.8" font-weight="bold" text-anchor="end" textLength="7.9" lengthAdjust="spacingAndGlyphs" fill="#000" stroke="#000" stroke-width="0.15">40</text>
<line x1="52.4" y1="294.41999999999996" x2="55.6" y2="294.41999999999996" stroke="#000" stroke-width="1.3"/>
<text x="51.800000000000004" y="297.21999999999997" font-size="7.8" font-weight="bold" text-anchor="end" textLength="7.9" lengthAdjust="spacingAndGlyphs" fill="#000" stroke="#000" stroke-width="0.15">60</text>
<line x1="52.4" y1="258.65999999999997" x2="55.6" y2="258.65999999999997" stroke="#000" stroke-width="1.3"/>
<text x="51.800000000000004" y="261.46" font-size="7.8" font-weight="bold" text-anchor="end" textLength="7.9" lengthAdjust="spacingAndGlyphs" fill="#000" stroke="#000" stroke-width="0.15">80</text>
<line x1="86.5" y1="401.7" x2="86.5" y2="404.3" stroke="#000" stroke-width="1.3"/>
<line x1="147.8" y1="401.7" x2="147.8" y2="404.3" stroke="#000" stroke-width="1.3"/>
<line x1="209.5" y1="401.7" x2="209.5" y2="404.3" stroke="#000" stroke-width="1.3"/>
<text x="86.3" y="412.8" font-size="7.6" font-weight="bold" text-anchor="middle" textLength="10.5" lengthAdjust="spacingAndGlyphs" fill="#000" >HC</text>
<text x="148.3" y="412.6" font-size="7.7" font-weight="bold" text-anchor="middle" textLength="37.7" lengthAdjust="spacingAndGlyphs" fill="#000" >no cGvHD</text>
<text x="209.6" y="412.6" font-size="7.7" font-weight="bold" text-anchor="middle" textLength="25.8" lengthAdjust="spacingAndGlyphs" fill="#000" >cGvHD</text>
<text transform="translate(37.2,381.5) rotate(-90)" font-size="12.4" font-weight="bold" textLength="113.6" lengthAdjust="spacingAndGlyphs" stroke="#000" stroke-width="0.25">IFN-γ<tspan font-size="7.5" dy="-5.2">+</tspan><tspan dy="5.2"> </tspan>CD4<tspan font-size="7.5" dy="-5.2">+</tspan><tspan dy="5.2"> </tspan>T cels</text>
<text transform="translate(38.2,263.6) rotate(-90)" font-size="16.5" textLength="22.2" lengthAdjust="spacingAndGlyphs" stroke="#000" stroke-width="0.35">[%]</text>
<line x1="86.5" y1="354.4" x2="86.5" y2="380.8" stroke="#000" stroke-width="1.7"/>
<line x1="76.5" y1="354.4" x2="96.5" y2="354.4" stroke="#000" stroke-width="1.7"/>
<line x1="76.5" y1="380.8" x2="96.5" y2="380.8" stroke="#000" stroke-width="1.7"/>
<line x1="66.3" y1="373.0" x2="106.7" y2="373.0" stroke="#222" stroke-width="1.1"/>
<circle cx="86.5" cy="349.0" r="3.1" fill="none" stroke="#000" stroke-width="1.7"/>
<circle cx="86.5" cy="370.2" r="3.1" fill="none" stroke="#000" stroke-width="1.7"/>
<circle cx="91.3" cy="376.0" r="3.1" fill="none" stroke="#000" stroke-width="1.7"/>
<circle cx="81.7" cy="382.7" r="3.1" fill="none" stroke="#000" stroke-width="1.7"/>
<line x1="147.9" y1="333.0" x2="147.9" y2="362.6" stroke="#000" stroke-width="1.7"/>
<line x1="137.70000000000002" y1="333.0" x2="158.1" y2="333.0" stroke="#000" stroke-width="1.7"/>
<line x1="137.70000000000002" y1="362.6" x2="158.1" y2="362.6" stroke="#000" stroke-width="1.7"/>
<line x1="127.80000000000001" y1="350.2" x2="168.0" y2="350.2" stroke="#222" stroke-width="1.1"/>
<rect x="144.90" y="286.10" width="6.0" height="6.0" fill="none" stroke="#000" stroke-width="1.7"/>
<rect x="144.90" y="304.30" width="6.0" height="6.0" fill="none" stroke="#000" stroke-width="1.7"/>
<rect x="144.90" y="326.60" width="6.0" height="6.0" fill="none" stroke="#000" stroke-width="1.7"/>
<rect x="144.90" y="337.70" width="6.0" height="6.0" fill="none" stroke="#000" stroke-width="1.7"/>
<rect x="159.00" y="339.80" width="6.0" height="6.0" fill="none" stroke="#000" stroke-width="1.7"/>
<rect x="130.70" y="347.40" width="6.0" height="6.0" fill="none" stroke="#000" stroke-width="1.7"/>
<rect x="140.00" y="348.90" width="6.0" height="6.0" fill="none" stroke="#000" stroke-width="1.7"/>
<rect x="149.50" y="347.40" width="6.0" height="6.0" fill="none" stroke="#000" stroke-width="1.7"/>
<rect x="140.00" y="358.40" width="6.0" height="6.0" fill="none" stroke="#000" stroke-width="1.7"/>
<rect x="149.50" y="359.60" width="6.0" height="6.0" fill="none" stroke="#000" stroke-width="1.7"/>
<rect x="149.50" y="375.60" width="6.0" height="6.0" fill="none" stroke="#000" stroke-width="1.7"/>
<rect x="140.00" y="383.30" width="6.0" height="6.0" fill="none" stroke="#000" stroke-width="1.7"/>
<line x1="209.4" y1="333.0" x2="209.4" y2="376.2" stroke="#000" stroke-width="1.7"/>
<line x1="199.3" y1="333.0" x2="219.5" y2="333.0" stroke="#000" stroke-width="1.7"/>
<line x1="199.3" y1="376.2" x2="219.5" y2="376.2" stroke="#000" stroke-width="1.7"/>
<line x1="189.1" y1="355.3" x2="229.70000000000002" y2="355.3" stroke="#222" stroke-width="1.1"/>
<path d="M209.4 316.2L213.70000000000002 320.5L209.4 324.8L205.1 320.5Z" fill="none" stroke="#000" stroke-width="1.6"/>
<path d="M214.5 323.7L218.8 328.0L214.5 332.3L210.2 328.0Z" fill="none" stroke="#000" stroke-width="1.6"/>
<path d="M204.4 330.0L208.70000000000002 334.3L204.4 338.6L200.1 334.3Z" fill="none" stroke="#000" stroke-width="1.6"/>
<path d="M204.4 335.4L208.70000000000002 339.7L204.4 344.0L200.1 339.7Z" fill="none" stroke="#000" stroke-width="1.6"/>
<path d="M214.5 343.9L218.8 348.2L214.5 352.5L210.2 348.2Z" fill="none" stroke="#000" stroke-width="1.6"/>
<path d="M209.4 358.09999999999997L213.70000000000002 362.4L209.4 366.7L205.1 362.4Z" fill="none" stroke="#000" stroke-width="1.6"/>
<path d="M218.9 366.4L223.20000000000002 370.7L218.9 375.0L214.6 370.7Z" fill="none" stroke="#000" stroke-width="1.6"/>
<path d="M199.7 371.9L204.0 376.2L199.7 380.5L195.39999999999998 376.2Z" fill="none" stroke="#000" stroke-width="1.6"/>
<path d="M209.4 371.9L213.70000000000002 376.2L209.4 380.5L205.1 376.2Z" fill="none" stroke="#000" stroke-width="1.6"/>
<path d="M209.4 391.09999999999997L213.70000000000002 395.4L209.4 399.7L205.1 395.4Z" fill="none" stroke="#000" stroke-width="1.6"/>
<line x1="321.2" y1="254.4" x2="321.2" y2="399.40000000000003" stroke="#000" stroke-width="1.6"/>
<line x1="320.4" y1="398.6" x2="511.4" y2="398.6" stroke="#000" stroke-width="1.6"/>
<line x1="318.0" y1="398.6" x2="321.2" y2="398.6" stroke="#000" stroke-width="1.3"/>
<text x="317.2" y="401.5" font-size="8.0" font-weight="bold" text-anchor="end" textLength="4.3" lengthAdjust="spacingAndGlyphs" fill="#000" stroke="#000" stroke-width="0.15">0</text>
<line x1="318.0" y1="369.75" x2="321.2" y2="369.75" stroke="#000" stroke-width="1.3"/>
<text x="317.2" y="372.65" font-size="8.0" font-weight="bold" text-anchor="end" textLength="12.9" lengthAdjust="spacingAndGlyphs" fill="#000" stroke="#000" stroke-width="0.15">100</text>
<line x1="318.0" y1="340.90000000000003" x2="321.2" y2="340.90000000000003" stroke="#000" stroke-width="1.3"/>
<text x="317.2" y="343.8" font-size="8.0" font-weight="bold" text-anchor="end" textLength="12.9" lengthAdjust="spacingAndGlyphs" fill="#000" stroke="#000" stroke-width="0.15">200</text>
<line x1="318.0" y1="312.05" x2="321.2" y2="312.05" stroke="#000" stroke-width="1.3"/>
<text x="317.2" y="314.95" font-size="8.0" font-weight="bold" text-anchor="end" textLength="12.9" lengthAdjust="spacingAndGlyphs" fill="#000" stroke="#000" stroke-width="0.15">300</text>
<line x1="318.0" y1="283.20000000000005" x2="321.2" y2="283.20000000000005" stroke="#000" stroke-width="1.3"/>
<text x="317.2" y="286.1" font-size="8.0" font-weight="bold" text-anchor="end" textLength="12.9" lengthAdjust="spacingAndGlyphs" fill="#000" stroke="#000" stroke-width="0.15">400</text>
<line x1="318.0" y1="254.35000000000002" x2="321.2" y2="254.35000000000002" stroke="#000" stroke-width="1.3"/>
<text x="317.2" y="257.25" font-size="8.0" font-weight="bold" text-anchor="end" textLength="12.9" lengthAdjust="spacingAndGlyphs" fill="#000" stroke="#000" stroke-width="0.15">500</text>
<line x1="352.4" y1="398.6" x2="352.4" y2="401.20000000000005" stroke="#000" stroke-width="1.3"/>
<line x1="415.1" y1="398.6" x2="415.1" y2="401.20000000000005" stroke="#000" stroke-width="1.3"/>
<line x1="479.2" y1="398.6" x2="479.2" y2="401.20000000000005" stroke="#000" stroke-width="1.3"/>
<text x="352.3" y="408.9" font-size="7.6" font-weight="bold" text-anchor="middle" textLength="11" lengthAdjust="spacingAndGlyphs" fill="#000" >HC</text>
<text x="416.2" y="408.8" font-size="8.0" font-weight="bold" text-anchor="middle" textLength="39" lengthAdjust="spacingAndGlyphs" fill="#000" >no cGvHD</text>
<text x="477.9" y="408.8" font-size="8.0" font-weight="bold" text-anchor="middle" textLength="27.7" lengthAdjust="spacingAndGlyphs" fill="#000" >cGVHD</text>
<text transform="translate(279.7,368.4) rotate(-90)" font-size="12.4" font-weight="bold" textLength="110.7" lengthAdjust="spacingAndGlyphs" stroke="#000" stroke-width="0.25">IFN-γ<tspan font-size="7.5" dy="-5.2">+</tspan><tspan dy="5.2"> </tspan>CD4<tspan font-size="7.5" dy="-5.2">+</tspan><tspan dy="5.2"> </tspan>T cells</text>
<text transform="translate(298.4,345.6) rotate(-90)" font-size="12.4" font-weight="bold" textLength="37.8" lengthAdjust="spacingAndGlyphs" stroke="#000" stroke-width="0.25">per <tspan font-size="9" dy="-3.5">μ</tspan><tspan dy="3.5">L</tspan></text>
<line x1="352.4" y1="358.9" x2="352.4" y2="381.5" stroke="#000" stroke-width="1.7"/>
<line x1="342.0" y1="358.9" x2="362.79999999999995" y2="358.9" stroke="#000" stroke-width="1.7"/>
<line x1="342.0" y1="381.5" x2="362.79999999999995" y2="381.5" stroke="#000" stroke-width="1.7"/>
<line x1="331.2" y1="375.2" x2="373.59999999999997" y2="375.2" stroke="#222" stroke-width="1.1"/>
<circle cx="352.4" cy="348.8" r="3.0" fill="#000" stroke="#000" stroke-width="0.5"/>
<circle cx="361.7" cy="368.0" r="3.0" fill="#000" stroke="#000" stroke-width="0.5"/>
<circle cx="342.5" cy="375.2" r="3.0" fill="#000" stroke="#000" stroke-width="0.5"/>
<circle cx="352.4" cy="375.2" r="3.0" fill="#000" stroke="#000" stroke-width="0.5"/>
<circle cx="352.4" cy="387.6" r="3.0" fill="#000" stroke="#000" stroke-width="0.5"/>
<line x1="415.1" y1="331.9" x2="415.1" y2="382.0" stroke="#000" stroke-width="1.7"/>
<line x1="404.70000000000005" y1="331.9" x2="425.5" y2="331.9" stroke="#000" stroke-width="1.7"/>
<line x1="404.70000000000005" y1="382.0" x2="425.5" y2="382.0" stroke="#000" stroke-width="1.7"/>
<line x1="394.40000000000003" y1="376.2" x2="435.8" y2="376.2" stroke="#222" stroke-width="1.1"/>
<rect x="412.40" y="263.50" width="5.4" height="5.4" fill="#000" stroke="#000" stroke-width="0.5"/>
<rect x="412.40" y="311.60" width="5.4" height="5.4" fill="#000" stroke="#000" stroke-width="0.5"/>
<rect x="412.40" y="325.70" width="5.4" height="5.4" fill="#000" stroke="#000" stroke-width="0.5"/>
<rect x="412.40" y="342.40" width="5.4" height="5.4" fill="#000" stroke="#000" stroke-width="0.5"/>
<rect x="412.40" y="353.30" width="5.4" height="5.4" fill="#000" stroke="#000" stroke-width="0.5"/>
<rect x="398.30" y="372.40" width="5.4" height="5.4" fill="#000" stroke="#000" stroke-width="0.5"/>
<rect x="427.30" y="374.30" width="5.4" height="5.4" fill="#000" stroke="#000" stroke-width="0.5"/>
<rect x="408.30" y="377.00" width="5.4" height="5.4" fill="#000" stroke="#000" stroke-width="0.5"/>
<rect x="417.80" y="378.10" width="5.4" height="5.4" fill="#000" stroke="#000" stroke-width="0.5"/>
<rect x="403.00" y="381.60" width="5.4" height="5.4" fill="#000" stroke="#000" stroke-width="0.5"/>
<rect x="423.30" y="385.10" width="5.4" height="5.4" fill="#000" stroke="#000" stroke-width="0.5"/>
<rect x="412.40" y="390.00" width="5.4" height="5.4" fill="#000" stroke="#000" stroke-width="0.5"/>
<line x1="479.2" y1="370.3" x2="479.2" y2="392.0" stroke="#000" stroke-width="1.7"/>
<line x1="469.2" y1="370.3" x2="489.2" y2="370.3" stroke="#000" stroke-width="1.7"/>
<line x1="469.2" y1="392.0" x2="489.2" y2="392.0" stroke="#000" stroke-width="1.7"/>
<line x1="458.4" y1="385.4" x2="500.0" y2="385.4" stroke="#222" stroke-width="1.1"/>
<path d="M479.2 279.8L483.2 283.8L479.2 287.8L475.2 283.8Z" fill="#000" stroke="#000" stroke-width="0.5"/>
<path d="M479.2 351.4L483.2 355.4L479.2 359.4L475.2 355.4Z" fill="#000" stroke="#000" stroke-width="0.5"/>
<path d="M488.6 372.2L492.6 376.2L488.6 380.2L484.6 376.2Z" fill="#000" stroke="#000" stroke-width="0.5"/>
<path d="M469.7 377.6L473.7 381.6L469.7 385.6L465.7 381.6Z" fill="#000" stroke="#000" stroke-width="0.5"/>
<path d="M479.2 379.0L483.2 383.0L479.2 387.0L475.2 383.0Z" fill="#000" stroke="#000" stroke-width="0.5"/>
<path d="M475.1 383.0L479.1 387.0L475.1 391.0L471.1 387.0Z" fill="#000" stroke="#000" stroke-width="0.5"/>
<path d="M483.2 384.4L487.2 388.4L483.2 392.4L479.2 388.4Z" fill="#000" stroke="#000" stroke-width="0.5"/>
<path d="M469.7 387.6L473.7 391.6L469.7 395.6L465.7 391.6Z" fill="#000" stroke="#000" stroke-width="0.5"/>
<path d="M488.6 389.0L492.6 393.0L488.6 397.0L484.6 393.0Z" fill="#000" stroke="#000" stroke-width="0.5"/>
<path d="M479.2 392.5L483.2 396.5L479.2 400.5L475.2 396.5Z" fill="#000" stroke="#000" stroke-width="0.5"/>
<line x1="61.6" y1="440.9" x2="61.6" y2="501.2" stroke="#000" stroke-width="1.6"/>
<line x1="59.4" y1="500.8" x2="63.9" y2="500.8" stroke="#000" stroke-width="1.6"/>
<line x1="61.6" y1="510.2" x2="61.6" y2="569.8" stroke="#000" stroke-width="1.6"/>
<line x1="59.7" y1="510.6" x2="63.9" y2="510.6" stroke="#000" stroke-width="1.6"/>
<line x1="58.1" y1="441.2" x2="61.6" y2="441.2" stroke="#000" stroke-width="1.4"/>
<line x1="60.800000000000004" y1="569.0" x2="252.3" y2="569.0" stroke="#000" stroke-width="1.8"/>
<text x="55.6" y="444.6" font-size="9.2" font-weight="bold" text-anchor="end" textLength="18.8" lengthAdjust="spacingAndGlyphs" fill="#000" stroke="#000" stroke-width="0.2">2000</text>
<line x1="58.1" y1="518.8" x2="61.6" y2="518.8" stroke="#000" stroke-width="1.4"/>
<text x="56.6" y="522.0999999999999" font-size="9.4" font-weight="bold" text-anchor="end" textLength="14.85" lengthAdjust="spacingAndGlyphs" fill="#000" stroke="#000" stroke-width="0.2">300</text>
<line x1="58.1" y1="535.8" x2="61.6" y2="535.8" stroke="#000" stroke-width="1.4"/>
<text x="56.6" y="539.0999999999999" font-size="9.4" font-weight="bold" text-anchor="end" textLength="14.85" lengthAdjust="spacingAndGlyphs" fill="#000" stroke="#000" stroke-width="0.2">200</text>
<line x1="58.1" y1="552.4" x2="61.6" y2="552.4" stroke="#000" stroke-width="1.4"/>
<text x="56.6" y="555.6999999999999" font-size="9.4" font-weight="bold" text-anchor="end" textLength="14.85" lengthAdjust="spacingAndGlyphs" fill="#000" stroke="#000" stroke-width="0.2">100</text>
<line x1="58.1" y1="569.0" x2="61.6" y2="569.0" stroke="#000" stroke-width="1.4"/>
<text x="56.6" y="572.3" font-size="9.4" font-weight="bold" text-anchor="end" textLength="4.95" lengthAdjust="spacingAndGlyphs" fill="#000" stroke="#000" stroke-width="0.2">0</text>
<text x="107.6" y="583.4" font-size="10.0" font-weight="bold" text-anchor="middle" textLength="50.7" lengthAdjust="spacingAndGlyphs" fill="#000" >no cGVHD</text>
<text x="203.6" y="583.4" font-size="10.0" font-weight="bold" text-anchor="middle" textLength="35.9" lengthAdjust="spacingAndGlyphs" fill="#000" >cGVHD</text>
<text transform="translate(28.3,590.3) rotate(-90)" font-size="10.2" font-weight="bold" textLength="171" lengthAdjust="spacingAndGlyphs" stroke="#000" stroke-width="0.25">No. IFN-γ<tspan font-size="6.5" dy="-4.5">+</tspan><tspan dy="4.5"> </tspan>CD4<tspan font-size="6.5" dy="-4.5">+</tspan><tspan dy="4.5"> </tspan>/ No. IL-10<tspan font-size="6.5" dy="-4.5">+</tspan><tspan dy="4.5"> </tspan>CD19<tspan font-size="6.5" dy="-4.5">+</tspan><tspan dy="4.5"> </tspan></text>
<line x1="106.0" y1="449.7" x2="200.0" y2="449.7" stroke="#000" stroke-width="1.6"/>
<line x1="106.0" y1="446.2" x2="106.0" y2="453.2" stroke="#000" stroke-width="1.6"/>
<line x1="200.0" y1="446.2" x2="200.0" y2="453.2" stroke="#000" stroke-width="1.6"/>
<path d="M152.0 440.9L152.00 437.50M152.0 440.9L155.23 439.85M152.0 440.9L154.00 443.65M152.0 440.9L150.00 443.65M152.0 440.9L148.77 439.85" stroke="#000" stroke-width="1.7" fill="none" stroke-linecap="round"/>
<line x1="77.69999999999999" y1="567.2" x2="140.9" y2="567.2" stroke="#222" stroke-width="1.1"/>
<circle cx="85.5" cy="568.8" r="2.9" fill="none" stroke="#000" stroke-width="1.5"/>
<circle cx="91.8" cy="565.5" r="2.9" fill="none" stroke="#000" stroke-width="1.5"/>
<circle cx="97.2" cy="568.8" r="2.9" fill="none" stroke="#000" stroke-width="1.5"/>
<circle cx="102.6" cy="565.5" r="2.9" fill="none" stroke="#000" stroke-width="1.5"/>
<circle cx="106.2" cy="562.4" r="2.9" fill="none" stroke="#000" stroke-width="1.5"/>
<circle cx="111.3" cy="563.5" r="2.9" fill="none" stroke="#000" stroke-width="1.5"/>
<circle cx="109.3" cy="569.5" r="2.9" fill="none" stroke="#000" stroke-width="1.5"/>
<circle cx="116.0" cy="566.8" r="2.9" fill="none" stroke="#000" stroke-width="1.5"/>
<circle cx="121.4" cy="568.8" r="2.9" fill="none" stroke="#000" stroke-width="1.5"/>
<circle cx="126.1" cy="565.5" r="2.9" fill="none" stroke="#000" stroke-width="1.5"/>
<circle cx="132.9" cy="568.8" r="2.9" fill="none" stroke="#000" stroke-width="1.5"/>
<circle cx="108.5" cy="545.1" r="3.3" fill="none" stroke="#000" stroke-width="1.6"/>
<line x1="204.8" y1="500.3" x2="204.8" y2="501.2" stroke="#000" stroke-width="1.7"/>
<line x1="189.2" y1="500.3" x2="220.8" y2="500.3" stroke="#000" stroke-width="1.7"/>
<line x1="204.8" y1="510.5" x2="204.8" y2="569" stroke="#000" stroke-width="1.7"/>
<line x1="173.1" y1="561.5" x2="236.1" y2="561.5" stroke="#222" stroke-width="1.1"/>
<rect x="200.85" y="456.25" width="7.5" height="7.5" fill="none" stroke="#000" stroke-width="1.7"/>
<rect x="206.75" y="488.55" width="7.5" height="7.5" fill="none" stroke="#000" stroke-width="1.7"/>
<rect x="195.15" y="496.55" width="7.5" height="7.5" fill="none" stroke="#000" stroke-width="1.7"/>
<rect x="195.45" y="523.25" width="7.5" height="7.5" fill="none" stroke="#000" stroke-width="1.7"/>
<rect x="206.55" y="531.65" width="7.5" height="7.5" fill="none" stroke="#000" stroke-width="1.7"/>
<rect x="207.05" y="556.25" width="7.5" height="7.5" fill="none" stroke="#000" stroke-width="1.7"/>
<rect x="183.45" y="563.45" width="7.5" height="7.5" fill="none" stroke="#000" stroke-width="1.7"/>
<rect x="194.75" y="560.05" width="7.5" height="7.5" fill="none" stroke="#000" stroke-width="1.7"/>
<rect x="194.75" y="566.25" width="7.5" height="7.5" fill="none" stroke="#000" stroke-width="1.7"/>
<rect x="206.25" y="564.75" width="7.5" height="7.5" fill="none" stroke="#000" stroke-width="1.7"/>
<rect x="206.55" y="561.05" width="7.5" height="7.5" fill="none" stroke="#000" stroke-width="1.7"/>
<rect x="218.55" y="563.25" width="7.5" height="7.5" fill="none" stroke="#000" stroke-width="1.7"/>
<line x1="321.9" y1="436.9" x2="321.9" y2="498.6" stroke="#000" stroke-width="1.6"/>
<line x1="319.2" y1="498.3" x2="324.8" y2="498.3" stroke="#000" stroke-width="1.5"/>
<line x1="321.9" y1="507.6" x2="321.9" y2="569.0" stroke="#000" stroke-width="1.6"/>
<line x1="319.2" y1="507.9" x2="324.8" y2="507.9" stroke="#000" stroke-width="1.5"/>
<line x1="321.09999999999997" y1="568.4" x2="519.5" y2="568.4" stroke="#000" stroke-width="1.8"/>
<line x1="318.59999999999997" y1="436.9" x2="321.9" y2="436.9" stroke="#000" stroke-width="1.4"/>
<text x="316.7" y="440.09999999999997" font-size="9.0" font-weight="bold" text-anchor="end" textLength="14.1" lengthAdjust="spacingAndGlyphs" fill="#000" stroke="#000" stroke-width="0.2">200</text>
<line x1="318.59999999999997" y1="498.3" x2="321.9" y2="498.3" stroke="#000" stroke-width="1.4"/>
<text x="316.7" y="501.5" font-size="9.0" font-weight="bold" text-anchor="end" textLength="14.1" lengthAdjust="spacingAndGlyphs" fill="#000" stroke="#000" stroke-width="0.2">100</text>
<line x1="318.59999999999997" y1="507.8" x2="321.9" y2="507.8" stroke="#000" stroke-width="1.4"/>
<text x="316.7" y="511.0" font-size="9.0" font-weight="bold" text-anchor="end" textLength="9.4" lengthAdjust="spacingAndGlyphs" fill="#000" stroke="#000" stroke-width="0.2">40</text>
<line x1="318.59999999999997" y1="522.9" x2="321.9" y2="522.9" stroke="#000" stroke-width="1.4"/>
<text x="316.7" y="526.1" font-size="9.0" font-weight="bold" text-anchor="end" textLength="9.4" lengthAdjust="spacingAndGlyphs" fill="#000" stroke="#000" stroke-width="0.2">30</text>
<line x1="318.59999999999997" y1="538.2" x2="321.9" y2="538.2" stroke="#000" stroke-width="1.4"/>
<text x="316.7" y="541.4000000000001" font-size="9.0" font-weight="bold" text-anchor="end" textLength="9.4" lengthAdjust="spacingAndGlyphs" fill="#000" stroke="#000" stroke-width="0.2">20</text>
<line x1="318.59999999999997" y1="553.4" x2="321.9" y2="553.4" stroke="#000" stroke-width="1.4"/>
<text x="316.7" y="556.6" font-size="9.0" font-weight="bold" text-anchor="end" textLength="9.4" lengthAdjust="spacingAndGlyphs" fill="#000" stroke="#000" stroke-width="0.2">10</text>
<line x1="318.59999999999997" y1="568.6" x2="321.9" y2="568.6" stroke="#000" stroke-width="1.4"/>
<text x="316.7" y="571.8000000000001" font-size="9.0" font-weight="bold" text-anchor="end" textLength="4.7" lengthAdjust="spacingAndGlyphs" fill="#000" stroke="#000" stroke-width="0.2">0</text>
<line x1="371.6" y1="568.4" x2="371.6" y2="571.6" stroke="#000" stroke-width="1.4"/>
<line x1="470.0" y1="568.4" x2="470.0" y2="571.6" stroke="#000" stroke-width="1.4"/>
<text x="370.3" y="581.9" font-size="9.8" font-weight="bold" text-anchor="middle" textLength="48.6" lengthAdjust="spacingAndGlyphs" fill="#000" >no cGVHD</text>
<text x="468.7" y="581.9" font-size="9.8" font-weight="bold" text-anchor="middle" textLength="33.6" lengthAdjust="spacingAndGlyphs" fill="#000" >cGVHD</text>
<text transform="translate(294.4,582.0) rotate(-90)" font-size="10.1" font-weight="bold" textLength="157" lengthAdjust="spacingAndGlyphs" stroke="#000" stroke-width="0.25">% IFN-γ<tspan font-size="6.5" dy="-4.5">+</tspan><tspan dy="4.5"> </tspan>CD4/ % IL-10<tspan font-size="6.5" dy="-4.5">+</tspan><tspan dy="4.5"> </tspan>CD19<tspan font-size="6.5" dy="-4.5">+</tspan><tspan dy="4.5"> </tspan></text>
<line x1="366.5" y1="452.6" x2="462.7" y2="452.6" stroke="#000" stroke-width="1.6"/>
<line x1="366.5" y1="449.2" x2="366.5" y2="456.0" stroke="#000" stroke-width="1.6"/>
<line x1="462.7" y1="449.2" x2="462.7" y2="456.0" stroke="#000" stroke-width="1.6"/>
<path d="M416.2 442.4L416.20 438.90M416.2 442.4L419.53 441.32M416.2 442.4L418.26 445.23M416.2 442.4L414.14 445.23M416.2 442.4L412.87 441.32" stroke="#000" stroke-width="1.7" fill="none" stroke-linecap="round"/>
<line x1="371.6" y1="540.0" x2="371.6" y2="559.3" stroke="#000" stroke-width="1.7"/>
<line x1="355.90000000000003" y1="540.0" x2="387.3" y2="540.0" stroke="#000" stroke-width="1.7"/>
<line x1="355.90000000000003" y1="559.3" x2="387.3" y2="559.3" stroke="#000" stroke-width="1.7"/>
<line x1="338.5" y1="547.0" x2="403.70000000000005" y2="547.0" stroke="#222" stroke-width="1.1"/>
<circle cx="371.6" cy="514.6" r="3.5" fill="none" stroke="#000" stroke-width="1.5"/>
<circle cx="371.6" cy="535.3" r="3.5" fill="none" stroke="#000" stroke-width="1.5"/>
<circle cx="348.0" cy="543.6" r="3.5" fill="none" stroke="#000" stroke-width="1.5"/>
<circle cx="395.1" cy="539.2" r="3.5" fill="none" stroke="#000" stroke-width="1.5"/>
<circle cx="359.8" cy="546.7" r="3.5" fill="none" stroke="#000" stroke-width="1.5"/>
<circle cx="371.6" cy="547.8" r="3.5" fill="none" stroke="#000" stroke-width="1.5"/>
<circle cx="383.3" cy="545.2" r="3.5" fill="none" stroke="#000" stroke-width="1.5"/>
<circle cx="348.0" cy="554.1" r="3.5" fill="none" stroke="#000" stroke-width="1.5"/>
<circle cx="395.1" cy="555.7" r="3.5" fill="none" stroke="#000" stroke-width="1.5"/>
<circle cx="359.8" cy="560.4" r="3.5" fill="none" stroke="#000" stroke-width="1.5"/>
<circle cx="383.3" cy="561.6" r="3.5" fill="none" stroke="#000" stroke-width="1.5"/>
<circle cx="371.6" cy="564.0" r="3.5" fill="none" stroke="#000" stroke-width="1.5"/>
<line x1="470.0" y1="512.2" x2="470.0" y2="550" stroke="#000" stroke-width="1.7"/>
<line x1="461.0" y1="512.2" x2="479.0" y2="512.2" stroke="#000" stroke-width="1.7"/>
<line x1="437.7" y1="542.6" x2="502.3" y2="542.6" stroke="#222" stroke-width="1.1"/>
<rect x="466.25" y="462.05" width="7.5" height="7.5" fill="none" stroke="#000" stroke-width="1.7"/>
<rect x="466.25" y="504.55" width="7.5" height="7.5" fill="none" stroke="#000" stroke-width="1.7"/>
<rect x="454.05" y="510.25" width="7.5" height="7.5" fill="none" stroke="#000" stroke-width="1.7"/>
<rect x="477.85" y="507.95" width="7.5" height="7.5" fill="none" stroke="#000" stroke-width="1.7"/>
<rect x="466.25" y="519.55" width="7.5" height="7.5" fill="none" stroke="#000" stroke-width="1.7"/>
<rect x="459.75" y="539.35" width="7.5" height="7.5" fill="none" stroke="#000" stroke-width="1.7"/>
<rect x="472.15" y="538.15" width="7.5" height="7.5" fill="none" stroke="#000" stroke-width="1.7"/>
<rect x="484.25" y="541.95" width="7.5" height="7.5" fill="none" stroke="#000" stroke-width="1.7"/>
<rect x="448.15" y="546.35" width="7.5" height="7.5" fill="none" stroke="#000" stroke-width="1.7"/>
<rect x="459.75" y="549.75" width="7.5" height="7.5" fill="none" stroke="#000" stroke-width="1.7"/>
<rect x="472.15" y="549.25" width="7.5" height="7.5" fill="none" stroke="#000" stroke-width="1.7"/>
</svg></body></html>
